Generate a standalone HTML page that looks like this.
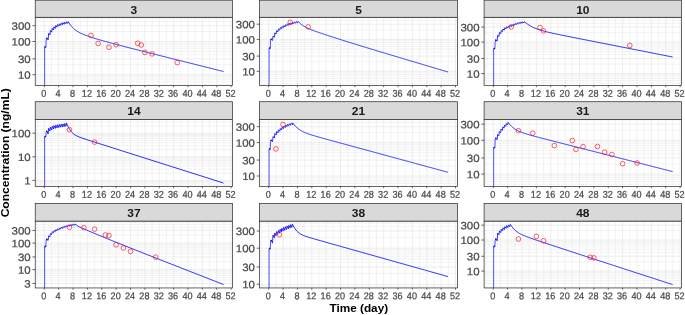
<!DOCTYPE html>
<html lang="en"><head><meta charset="utf-8"><title>Concentration vs Time</title>
<style>html,body{margin:0;padding:0;background:#fff}body{width:685px;height:315px;overflow:hidden}svg{display:block}</style>
</head><body>
<svg width="685" height="315" viewBox="0 0 685 315" font-family="'Liberation Sans', Arial, sans-serif">
<rect width="685" height="315" fill="#fff"/>
<g>
<clipPath id="c0"><rect x="35.25" y="17.3" width="197.25" height="68.20"/></clipPath>
<g clip-path="url(#c0)">
<path d="M35.25 84.69H232.5M35.25 82.07H232.5M35.25 79.84H232.5M35.25 77.92H232.5M35.25 76.22H232.5M35.25 64.71H232.5M35.25 54.71H232.5M35.25 51.49H232.5M35.25 48.87H232.5M35.25 46.64H232.5M35.25 44.72H232.5M35.25 43.02H232.5M35.25 31.51H232.5M35.25 21.51H232.5M35.25 18.29H232.5M37.09 17.3V85.5M51.47 17.3V85.5M65.84 17.3V85.5M80.21 17.3V85.5M94.58 17.3V85.5M108.95 17.3V85.5M123.32 17.3V85.5M137.69 17.3V85.5M152.06 17.3V85.5M166.43 17.3V85.5M180.80 17.3V85.5M195.17 17.3V85.5M209.54 17.3V85.5M223.91 17.3V85.5" stroke="#e9e9e9" stroke-width="0.55" fill="none"/>
<path d="M35.25 74.70H232.5M35.25 58.86H232.5M35.25 41.50H232.5M35.25 25.66H232.5M44.28 17.3V85.5M58.65 17.3V85.5M73.02 17.3V85.5M87.39 17.3V85.5M101.76 17.3V85.5M116.13 17.3V85.5M130.50 17.3V85.5M144.88 17.3V85.5M159.25 17.3V85.5M173.62 17.3V85.5M187.99 17.3V85.5M202.36 17.3V85.5M216.73 17.3V85.5M231.10 17.3V85.5" stroke="#e6e6e6" stroke-width="0.7" fill="none"/>
<path d="M44.65 86.50 L44.65 47.40 L45.28 46.80 L45.88 47.30 L46.18 39.30 L46.88 38.30" stroke="#0a0aff" stroke-width="0.7" fill="none" stroke-linejoin="round"/>
<path d="M46.88 38.30 L46.88 38.30 L48.12 39.90 L48.66 33.40 L49.90 35.00 L50.43 30.54 L51.68 32.14 L52.21 28.37 L53.45 29.97 L53.99 26.78 L55.23 28.38 L55.76 25.56 L57.01 27.16 L57.54 24.60 L58.78 26.20 L59.32 23.85 L60.56 25.45 L61.09 23.22 L62.34 24.82 L62.87 22.67 L64.11 24.27 L64.65 22.21 L65.89 23.81 L66.42 21.82 L67.67 23.42 L68.20 21.50" stroke="#0a0aff" stroke-width="0.85" fill="none" stroke-linejoin="miter" stroke-miterlimit="10"/>
<path d="M48.12 39.90L48.66 33.40M49.90 35.00L50.43 30.54M51.68 32.14L52.21 28.37M53.45 29.97L53.99 26.78M55.23 28.38L55.76 25.56M57.01 27.16L57.54 24.60M58.78 26.20L59.32 23.85M60.56 25.45L61.09 23.22M62.34 24.82L62.87 22.67M64.11 24.27L64.65 22.21M65.89 23.81L66.42 21.82M67.67 23.42L68.20 21.50" stroke="#0a0aff" stroke-width="0" fill="none"/>
<path d="M68.20 21.50 L68.70 22.35 L69.70 23.91 L70.70 25.31 L71.70 26.54 L72.70 27.63 L73.70 28.60 L74.70 29.47 L75.70 30.24 L76.70 30.94 L77.70 31.57 L78.70 32.15 L79.70 32.68 L80.70 33.18 L81.70 33.65 L82.70 34.09 L83.70 34.51 L84.70 34.91 L85.70 35.30 L86.70 35.67 L87.70 36.03 L88.70 36.38 L89.70 36.72 L90.70 37.06 L91.70 37.39 L92.70 37.71 L93.70 38.03 L94.70 38.34 L95.70 38.65 L96.70 38.95 L97.70 39.25 L98.70 39.55 L99.70 39.85 L100.70 40.14 L101.70 40.43 L102.70 40.71 L103.70 41.00 L104.70 41.28 L105.70 41.56 L106.70 41.84 L107.70 42.11 L108.70 42.39 L109.70 42.66 L110.70 42.93 L111.70 43.20 L112.70 43.47 L113.70 43.74 L114.70 44.01 L115.70 44.27 L116.70 44.54 L117.70 44.80 L118.70 45.06 L119.70 45.33 L120.70 45.59 L121.70 45.85 L122.70 46.11 L123.70 46.37 L124.70 46.63 L125.70 46.88 L126.70 47.14 L127.70 47.40 L128.70 47.66 L129.70 47.91 L130.70 48.17 L131.70 48.43 L132.70 48.68 L133.70 48.94 L134.70 49.19 L135.70 49.45 L136.70 49.70 L137.70 49.95 L138.70 50.21 L139.70 50.46 L140.70 50.72 L141.70 50.97 L142.70 51.22 L143.70 51.47 L144.70 51.73 L145.70 51.98 L146.70 52.23 L147.70 52.48 L148.70 52.74 L149.70 52.99 L150.70 53.24 L151.70 53.49 L152.70 53.74 L153.70 54.00 L154.70 54.25 L155.70 54.50 L156.70 54.75 L157.70 55.00 L158.70 55.25 L159.70 55.51 L160.70 55.76 L161.70 56.01 L162.70 56.26 L163.70 56.51 L164.70 56.76 L165.70 57.01 L166.70 57.26 L167.70 57.51 L168.70 57.77 L169.70 58.02 L170.70 58.27 L171.70 58.52 L172.70 58.77 L173.70 59.02 L174.70 59.27 L175.70 59.52 L176.70 59.77 L177.70 60.02 L178.70 60.27 L179.70 60.52 L180.70 60.78 L181.70 61.03 L182.70 61.28 L183.70 61.53 L184.70 61.78 L185.70 62.03 L186.70 62.28 L187.70 62.53 L188.70 62.78 L189.70 63.03 L190.70 63.28 L191.70 63.53 L192.70 63.78 L193.70 64.03 L194.70 64.28 L195.70 64.53 L196.70 64.79 L197.70 65.04 L198.70 65.29 L199.70 65.54 L200.70 65.79 L201.70 66.04 L202.70 66.29 L203.70 66.54 L204.70 66.79 L205.70 67.04 L206.70 67.29 L207.70 67.54 L208.70 67.79 L209.70 68.04 L210.70 68.29 L211.70 68.54 L212.70 68.79 L213.70 69.04 L214.70 69.30 L215.70 69.55 L216.70 69.80 L217.70 70.05 L218.70 70.30 L219.70 70.55 L220.70 70.80 L221.70 71.05 L222.70 71.30 L223.50 71.50" stroke="#0a0aff" stroke-width="0.85" fill="none" stroke-linejoin="round"/>
<circle cx="45.18" cy="46.90" r="0.85" fill="#0a0aff"/>
<circle cx="46.78" cy="38.40" r="0.85" fill="#0a0aff"/>
<circle cx="90.98509999999999" cy="35.5" r="2.35" stroke="#f81818" stroke-width="0.68" fill="none"/>
<circle cx="98.1705" cy="43.4" r="2.35" stroke="#f81818" stroke-width="0.68" fill="none"/>
<circle cx="108.9486" cy="47.2" r="2.35" stroke="#f81818" stroke-width="0.68" fill="none"/>
<circle cx="116.134" cy="44.7" r="2.35" stroke="#f81818" stroke-width="0.68" fill="none"/>
<circle cx="137.6902" cy="43.3" r="2.35" stroke="#f81818" stroke-width="0.68" fill="none"/>
<circle cx="141.28289999999998" cy="45" r="2.35" stroke="#f81818" stroke-width="0.68" fill="none"/>
<circle cx="144.8756" cy="52.5" r="2.35" stroke="#f81818" stroke-width="0.68" fill="none"/>
<circle cx="152.06099999999998" cy="53.9" r="2.35" stroke="#f81818" stroke-width="0.68" fill="none"/>
<circle cx="177.2099" cy="62.6" r="2.35" stroke="#f81818" stroke-width="0.68" fill="none"/>
</g>
<rect x="35.25" y="17.3" width="197.25" height="68.20" fill="none" stroke="#333" stroke-width="0.75"/>
<rect x="35.25" y="0.2" width="197.25" height="17.10" fill="#d9d9d9" stroke="#333" stroke-width="0.75"/>
<text transform="translate(133.88 13.90) scale(1.04 1)" font-size="11.5" font-weight="bold" fill="#1a1a1a" text-anchor="middle">3</text>
<text transform="translate(30.65 29.76) rotate(0.03) scale(1.08 1)" font-size="10.6" fill="#484848" stroke="#484848" stroke-width="0.22" text-anchor="end">300</text>
<text transform="translate(30.65 45.60) rotate(0.03) scale(1.08 1)" font-size="10.6" fill="#484848" stroke="#484848" stroke-width="0.22" text-anchor="end">100</text>
<text transform="translate(30.65 62.96) rotate(0.03) scale(1.08 1)" font-size="10.6" fill="#484848" stroke="#484848" stroke-width="0.22" text-anchor="end">30</text>
<text transform="translate(30.65 78.80) rotate(0.03) scale(1.08 1)" font-size="10.6" fill="#484848" stroke="#484848" stroke-width="0.22" text-anchor="end">10</text>
<text transform="translate(43.78 96.80) rotate(0.03) scale(1 1.08)" font-size="9.1" fill="#484848" stroke="#484848" stroke-width="0.22" text-anchor="middle">0</text>
<text transform="translate(58.15 96.80) rotate(0.03) scale(1 1.08)" font-size="9.1" fill="#484848" stroke="#484848" stroke-width="0.22" text-anchor="middle">4</text>
<text transform="translate(72.52 96.80) rotate(0.03) scale(1 1.08)" font-size="9.1" fill="#484848" stroke="#484848" stroke-width="0.22" text-anchor="middle">8</text>
<text transform="translate(86.89 96.80) rotate(0.03) scale(1 1.08)" font-size="9.1" fill="#484848" stroke="#484848" stroke-width="0.22" text-anchor="middle">12</text>
<text transform="translate(101.26 96.80) rotate(0.03) scale(1 1.08)" font-size="9.1" fill="#484848" stroke="#484848" stroke-width="0.22" text-anchor="middle">16</text>
<text transform="translate(115.63 96.80) rotate(0.03) scale(1 1.08)" font-size="9.1" fill="#484848" stroke="#484848" stroke-width="0.22" text-anchor="middle">20</text>
<text transform="translate(130.00 96.80) rotate(0.03) scale(1 1.08)" font-size="9.1" fill="#484848" stroke="#484848" stroke-width="0.22" text-anchor="middle">24</text>
<text transform="translate(144.38 96.80) rotate(0.03) scale(1 1.08)" font-size="9.1" fill="#484848" stroke="#484848" stroke-width="0.22" text-anchor="middle">28</text>
<text transform="translate(158.75 96.80) rotate(0.03) scale(1 1.08)" font-size="9.1" fill="#484848" stroke="#484848" stroke-width="0.22" text-anchor="middle">32</text>
<text transform="translate(173.12 96.80) rotate(0.03) scale(1 1.08)" font-size="9.1" fill="#484848" stroke="#484848" stroke-width="0.22" text-anchor="middle">36</text>
<text transform="translate(187.49 96.80) rotate(0.03) scale(1 1.08)" font-size="9.1" fill="#484848" stroke="#484848" stroke-width="0.22" text-anchor="middle">40</text>
<text transform="translate(201.86 96.80) rotate(0.03) scale(1 1.08)" font-size="9.1" fill="#484848" stroke="#484848" stroke-width="0.22" text-anchor="middle">44</text>
<text transform="translate(216.23 96.80) rotate(0.03) scale(1 1.08)" font-size="9.1" fill="#484848" stroke="#484848" stroke-width="0.22" text-anchor="middle">48</text>
<text transform="translate(230.60 96.80) rotate(0.03) scale(1 1.08)" font-size="9.1" fill="#484848" stroke="#484848" stroke-width="0.22" text-anchor="middle">52</text>
<path d="M32.45 25.66H35.25M32.45 41.50H35.25M32.45 58.86H35.25M32.45 74.70H35.25M44.28 85.5V87.20M58.65 85.5V87.20M73.02 85.5V87.20M87.39 85.5V87.20M101.76 85.5V87.20M116.13 85.5V87.20M130.50 85.5V87.20M144.88 85.5V87.20M159.25 85.5V87.20M173.62 85.5V87.20M187.99 85.5V87.20M202.36 85.5V87.20M216.73 85.5V87.20M231.10 85.5V87.20" stroke="#333" stroke-width="0.75" fill="none"/>
</g>
<g>
<clipPath id="c1"><rect x="259.5" y="17.3" width="198.0" height="68.20"/></clipPath>
<g clip-path="url(#c1)">
<path d="M259.5 83.99H457.5M259.5 80.90H457.5M259.5 78.38H457.5M259.5 76.24H457.5M259.5 74.39H457.5M259.5 72.76H457.5M259.5 61.70H457.5M259.5 52.09H457.5M259.5 49.00H457.5M259.5 46.48H457.5M259.5 44.34H457.5M259.5 42.49H457.5M259.5 40.86H457.5M259.5 29.80H457.5M259.5 20.19H457.5M261.49 17.3V85.5M275.87 17.3V85.5M290.24 17.3V85.5M304.61 17.3V85.5M318.98 17.3V85.5M333.35 17.3V85.5M347.72 17.3V85.5M362.09 17.3V85.5M376.46 17.3V85.5M390.83 17.3V85.5M405.20 17.3V85.5M419.57 17.3V85.5M433.94 17.3V85.5M448.31 17.3V85.5" stroke="#e9e9e9" stroke-width="0.55" fill="none"/>
<path d="M259.5 71.30H457.5M259.5 56.08H457.5M259.5 39.40H457.5M259.5 24.18H457.5M268.68 17.3V85.5M283.05 17.3V85.5M297.42 17.3V85.5M311.79 17.3V85.5M326.16 17.3V85.5M340.53 17.3V85.5M354.90 17.3V85.5M369.28 17.3V85.5M383.65 17.3V85.5M398.02 17.3V85.5M412.39 17.3V85.5M426.76 17.3V85.5M441.13 17.3V85.5M455.50 17.3V85.5" stroke="#e6e6e6" stroke-width="0.7" fill="none"/>
<path d="M269.05 86.50 L269.05 48.60 L269.68 48.00 L270.28 48.50 L270.58 40.20 L271.28 39.20" stroke="#0a0aff" stroke-width="0.7" fill="none" stroke-linejoin="round"/>
<path d="M271.28 39.20 L271.28 39.20 L272.53 40.40 L273.07 36.02 L274.32 37.22 L274.86 32.86 L276.11 34.06 L276.64 30.69 L277.90 31.89 L278.43 28.98 L279.68 30.18 L280.22 27.59 L281.47 28.79 L282.01 26.50 L283.26 27.70 L283.80 25.61 L285.05 26.81 L285.58 24.82 L286.84 26.02 L287.37 24.05 L288.62 25.25 L289.16 23.33 L290.41 24.53 L290.95 22.79 L292.20 23.99 L292.74 22.33 L293.99 23.53 L294.52 21.93 L295.78 23.13 L296.31 21.61 L297.56 22.81 L298.10 21.40" stroke="#0a0aff" stroke-width="0.85" fill="none" stroke-linejoin="miter" stroke-miterlimit="10"/>
<path d="M272.53 40.40L273.07 36.02M274.32 37.22L274.86 32.86M276.11 34.06L276.64 30.69M277.90 31.89L278.43 28.98M279.68 30.18L280.22 27.59M281.47 28.79L282.01 26.50M283.26 27.70L283.80 25.61M285.05 26.81L285.58 24.82M286.84 26.02L287.37 24.05M288.62 25.25L289.16 23.33M290.41 24.53L290.95 22.79M292.20 23.99L292.74 22.33M293.99 23.53L294.52 21.93M295.78 23.13L296.31 21.61M297.56 22.81L298.10 21.40" stroke="#0a0aff" stroke-width="0" fill="none"/>
<path d="M298.10 21.40 L298.60 21.94 L299.60 22.94 L300.60 23.83 L301.60 24.62 L302.60 25.34 L303.60 26.00 L304.60 26.59 L305.60 27.14 L306.60 27.65 L307.60 28.13 L308.60 28.59 L309.60 29.02 L310.60 29.43 L311.60 29.83 L312.60 30.22 L313.60 30.59 L314.60 30.96 L315.60 31.33 L316.60 31.68 L317.60 32.03 L318.60 32.38 L319.60 32.73 L320.60 33.07 L321.60 33.41 L322.60 33.74 L323.60 34.08 L324.60 34.41 L325.60 34.74 L326.60 35.07 L327.60 35.40 L328.60 35.73 L329.60 36.05 L330.60 36.38 L331.60 36.70 L332.60 37.03 L333.60 37.35 L334.60 37.67 L335.60 37.99 L336.60 38.31 L337.60 38.63 L338.60 38.95 L339.60 39.27 L340.60 39.58 L341.60 39.90 L342.60 40.21 L343.60 40.53 L344.60 40.84 L345.60 41.16 L346.60 41.47 L347.60 41.78 L348.60 42.10 L349.60 42.41 L350.60 42.72 L351.60 43.03 L352.60 43.34 L353.60 43.65 L354.60 43.96 L355.60 44.27 L356.60 44.58 L357.60 44.88 L358.60 45.19 L359.60 45.50 L360.60 45.81 L361.60 46.11 L362.60 46.42 L363.60 46.73 L364.60 47.03 L365.60 47.34 L366.60 47.64 L367.60 47.95 L368.60 48.25 L369.60 48.56 L370.60 48.86 L371.60 49.16 L372.60 49.47 L373.60 49.77 L374.60 50.07 L375.60 50.38 L376.60 50.68 L377.60 50.98 L378.60 51.28 L379.60 51.59 L380.60 51.89 L381.60 52.19 L382.60 52.49 L383.60 52.79 L384.60 53.09 L385.60 53.39 L386.60 53.69 L387.60 53.99 L388.60 54.29 L389.60 54.59 L390.60 54.89 L391.60 55.19 L392.60 55.49 L393.60 55.79 L394.60 56.09 L395.60 56.39 L396.60 56.69 L397.60 56.99 L398.60 57.29 L399.60 57.59 L400.60 57.89 L401.60 58.19 L402.60 58.49 L403.60 58.78 L404.60 59.08 L405.60 59.38 L406.60 59.68 L407.60 59.98 L408.60 60.28 L409.60 60.57 L410.60 60.87 L411.60 61.17 L412.60 61.47 L413.60 61.77 L414.60 62.06 L415.60 62.36 L416.60 62.66 L417.60 62.96 L418.60 63.25 L419.60 63.55 L420.60 63.85 L421.60 64.14 L422.60 64.44 L423.60 64.74 L424.60 65.04 L425.60 65.33 L426.60 65.63 L427.60 65.93 L428.60 66.22 L429.60 66.52 L430.60 66.82 L431.60 67.11 L432.60 67.41 L433.60 67.71 L434.60 68.01 L435.60 68.30 L436.60 68.60 L437.60 68.90 L438.60 69.19 L439.60 69.49 L440.60 69.78 L441.60 70.08 L442.60 70.38 L443.60 70.67 L444.60 70.97 L445.60 71.27 L446.60 71.56 L447.60 71.86 L448.00 72.00" stroke="#0a0aff" stroke-width="0.85" fill="none" stroke-linejoin="round"/>
<circle cx="269.58" cy="48.10" r="0.85" fill="#0a0aff"/>
<circle cx="271.18" cy="39.30" r="0.85" fill="#0a0aff"/>
<circle cx="290.2362" cy="22.4" r="2.35" stroke="#f81818" stroke-width="0.68" fill="none"/>
<circle cx="308.1997" cy="26.9" r="2.35" stroke="#f81818" stroke-width="0.68" fill="none"/>
</g>
<rect x="259.5" y="17.3" width="198.0" height="68.20" fill="none" stroke="#333" stroke-width="0.75"/>
<rect x="259.5" y="0.2" width="198.0" height="17.10" fill="#d9d9d9" stroke="#333" stroke-width="0.75"/>
<text transform="translate(358.50 13.90) scale(1.04 1)" font-size="11.5" font-weight="bold" fill="#1a1a1a" text-anchor="middle">5</text>
<text transform="translate(254.90 28.28) rotate(0.03) scale(1.08 1)" font-size="10.6" fill="#484848" stroke="#484848" stroke-width="0.22" text-anchor="end">300</text>
<text transform="translate(254.90 43.50) rotate(0.03) scale(1.08 1)" font-size="10.6" fill="#484848" stroke="#484848" stroke-width="0.22" text-anchor="end">100</text>
<text transform="translate(254.90 60.18) rotate(0.03) scale(1.08 1)" font-size="10.6" fill="#484848" stroke="#484848" stroke-width="0.22" text-anchor="end">30</text>
<text transform="translate(254.90 75.40) rotate(0.03) scale(1.08 1)" font-size="10.6" fill="#484848" stroke="#484848" stroke-width="0.22" text-anchor="end">10</text>
<text transform="translate(268.18 96.80) rotate(0.03) scale(1 1.08)" font-size="9.1" fill="#484848" stroke="#484848" stroke-width="0.22" text-anchor="middle">0</text>
<text transform="translate(282.55 96.80) rotate(0.03) scale(1 1.08)" font-size="9.1" fill="#484848" stroke="#484848" stroke-width="0.22" text-anchor="middle">4</text>
<text transform="translate(296.92 96.80) rotate(0.03) scale(1 1.08)" font-size="9.1" fill="#484848" stroke="#484848" stroke-width="0.22" text-anchor="middle">8</text>
<text transform="translate(311.29 96.80) rotate(0.03) scale(1 1.08)" font-size="9.1" fill="#484848" stroke="#484848" stroke-width="0.22" text-anchor="middle">12</text>
<text transform="translate(325.66 96.80) rotate(0.03) scale(1 1.08)" font-size="9.1" fill="#484848" stroke="#484848" stroke-width="0.22" text-anchor="middle">16</text>
<text transform="translate(340.03 96.80) rotate(0.03) scale(1 1.08)" font-size="9.1" fill="#484848" stroke="#484848" stroke-width="0.22" text-anchor="middle">20</text>
<text transform="translate(354.40 96.80) rotate(0.03) scale(1 1.08)" font-size="9.1" fill="#484848" stroke="#484848" stroke-width="0.22" text-anchor="middle">24</text>
<text transform="translate(368.78 96.80) rotate(0.03) scale(1 1.08)" font-size="9.1" fill="#484848" stroke="#484848" stroke-width="0.22" text-anchor="middle">28</text>
<text transform="translate(383.15 96.80) rotate(0.03) scale(1 1.08)" font-size="9.1" fill="#484848" stroke="#484848" stroke-width="0.22" text-anchor="middle">32</text>
<text transform="translate(397.52 96.80) rotate(0.03) scale(1 1.08)" font-size="9.1" fill="#484848" stroke="#484848" stroke-width="0.22" text-anchor="middle">36</text>
<text transform="translate(411.89 96.80) rotate(0.03) scale(1 1.08)" font-size="9.1" fill="#484848" stroke="#484848" stroke-width="0.22" text-anchor="middle">40</text>
<text transform="translate(426.26 96.80) rotate(0.03) scale(1 1.08)" font-size="9.1" fill="#484848" stroke="#484848" stroke-width="0.22" text-anchor="middle">44</text>
<text transform="translate(440.63 96.80) rotate(0.03) scale(1 1.08)" font-size="9.1" fill="#484848" stroke="#484848" stroke-width="0.22" text-anchor="middle">48</text>
<text transform="translate(455.00 96.80) rotate(0.03) scale(1 1.08)" font-size="9.1" fill="#484848" stroke="#484848" stroke-width="0.22" text-anchor="middle">52</text>
<path d="M256.70 24.18H259.5M256.70 39.40H259.5M256.70 56.08H259.5M256.70 71.30H259.5M268.68 85.5V87.20M283.05 85.5V87.20M297.42 85.5V87.20M311.79 85.5V87.20M326.16 85.5V87.20M340.53 85.5V87.20M354.90 85.5V87.20M369.28 85.5V87.20M383.65 85.5V87.20M398.02 85.5V87.20M412.39 85.5V87.20M426.76 85.5V87.20M441.13 85.5V87.20M455.50 85.5V87.20" stroke="#333" stroke-width="0.75" fill="none"/>
</g>
<g>
<clipPath id="c2"><rect x="484.1" y="17.3" width="197.39999999999998" height="68.20"/></clipPath>
<g clip-path="url(#c2)">
<path d="M484.1 83.08H681.5M484.1 80.59H681.5M484.1 78.48H681.5M484.1 76.65H681.5M484.1 75.04H681.5M484.1 64.12H681.5M484.1 54.64H681.5M484.1 51.58H681.5M484.1 49.09H681.5M484.1 46.98H681.5M484.1 45.15H681.5M484.1 43.54H681.5M484.1 32.62H681.5M484.1 23.14H681.5M484.1 20.08H681.5M484.1 17.59H681.5M486.09 17.3V85.5M500.47 17.3V85.5M514.84 17.3V85.5M529.21 17.3V85.5M543.58 17.3V85.5M557.95 17.3V85.5M572.32 17.3V85.5M586.69 17.3V85.5M601.06 17.3V85.5M615.43 17.3V85.5M629.80 17.3V85.5M644.17 17.3V85.5M658.54 17.3V85.5M672.91 17.3V85.5" stroke="#e9e9e9" stroke-width="0.55" fill="none"/>
<path d="M484.1 73.60H681.5M484.1 58.57H681.5M484.1 42.10H681.5M484.1 27.07H681.5M493.28 17.3V85.5M507.65 17.3V85.5M522.02 17.3V85.5M536.39 17.3V85.5M550.76 17.3V85.5M565.13 17.3V85.5M579.50 17.3V85.5M593.88 17.3V85.5M608.25 17.3V85.5M622.62 17.3V85.5M636.99 17.3V85.5M651.36 17.3V85.5M665.73 17.3V85.5M680.10 17.3V85.5" stroke="#e6e6e6" stroke-width="0.7" fill="none"/>
<path d="M493.65 86.50 L493.65 49.00 L494.28 48.40 L494.88 48.90 L495.18 41.10 L495.88 40.10" stroke="#0a0aff" stroke-width="0.7" fill="none" stroke-linejoin="round"/>
<path d="M495.88 40.10 L495.88 40.10 L497.13 41.20 L497.66 35.33 L498.91 36.43 L499.44 32.50 L500.69 33.60 L501.23 30.56 L502.48 31.66 L503.01 29.03 L504.26 30.13 L504.79 27.79 L506.04 28.89 L506.57 26.84 L507.82 27.94 L508.36 26.12 L509.61 27.22 L510.14 25.48 L511.39 26.58 L511.92 24.81 L513.17 25.91 L513.70 24.08 L514.95 25.18 L515.49 23.39 L516.74 24.49 L517.27 22.85 L518.52 23.95 L519.05 22.46 L520.30 23.56 L520.84 22.12 L522.08 23.22 L522.62 21.86 L523.87 22.96 L524.40 21.70" stroke="#0a0aff" stroke-width="0.85" fill="none" stroke-linejoin="miter" stroke-miterlimit="10"/>
<path d="M497.13 41.20L497.66 35.33M498.91 36.43L499.44 32.50M500.69 33.60L501.23 30.56M502.48 31.66L503.01 29.03M504.26 30.13L504.79 27.79M506.04 28.89L506.57 26.84M507.82 27.94L508.36 26.12M509.61 27.22L510.14 25.48M511.39 26.58L511.92 24.81M513.17 25.91L513.70 24.08M514.95 25.18L515.49 23.39M516.74 24.49L517.27 22.85M518.52 23.95L519.05 22.46M520.30 23.56L520.84 22.12M522.08 23.22L522.62 21.86M523.87 22.96L524.40 21.70" stroke="#0a0aff" stroke-width="0" fill="none"/>
<path d="M524.40 21.70 L524.90 22.12 L525.90 22.92 L526.90 23.67 L527.90 24.37 L528.90 25.02 L529.90 25.63 L530.90 26.20 L531.90 26.73 L532.90 27.22 L533.90 27.68 L534.90 28.12 L535.90 28.53 L536.90 28.91 L537.90 29.27 L538.90 29.62 L539.90 29.95 L540.90 30.26 L541.90 30.56 L542.90 30.84 L543.90 31.12 L544.90 31.38 L545.90 31.64 L546.90 31.89 L547.90 32.14 L548.90 32.37 L549.90 32.61 L550.90 32.84 L551.90 33.06 L552.90 33.28 L553.90 33.50 L554.90 33.72 L555.90 33.93 L556.90 34.14 L557.90 34.35 L558.90 34.56 L559.90 34.76 L560.90 34.97 L561.90 35.17 L562.90 35.38 L563.90 35.58 L564.90 35.78 L565.90 35.98 L566.90 36.18 L567.90 36.38 L568.90 36.58 L569.90 36.78 L570.90 36.98 L571.90 37.18 L572.90 37.38 L573.90 37.58 L574.90 37.77 L575.90 37.97 L576.90 38.17 L577.90 38.37 L578.90 38.56 L579.90 38.76 L580.90 38.96 L581.90 39.16 L582.90 39.35 L583.90 39.55 L584.90 39.75 L585.90 39.94 L586.90 40.14 L587.90 40.34 L588.90 40.53 L589.90 40.73 L590.90 40.93 L591.90 41.13 L592.90 41.32 L593.90 41.52 L594.90 41.72 L595.90 41.91 L596.90 42.11 L597.90 42.31 L598.90 42.50 L599.90 42.70 L600.90 42.90 L601.90 43.09 L602.90 43.29 L603.90 43.49 L604.90 43.68 L605.90 43.88 L606.90 44.08 L607.90 44.27 L608.90 44.47 L609.90 44.67 L610.90 44.86 L611.90 45.06 L612.90 45.26 L613.90 45.45 L614.90 45.65 L615.90 45.85 L616.90 46.04 L617.90 46.24 L618.90 46.44 L619.90 46.63 L620.90 46.83 L621.90 47.03 L622.90 47.22 L623.90 47.42 L624.90 47.62 L625.90 47.81 L626.90 48.01 L627.90 48.21 L628.90 48.40 L629.90 48.60 L630.90 48.80 L631.90 48.99 L632.90 49.19 L633.90 49.39 L634.90 49.58 L635.90 49.78 L636.90 49.98 L637.90 50.17 L638.90 50.37 L639.90 50.57 L640.90 50.76 L641.90 50.96 L642.90 51.16 L643.90 51.35 L644.90 51.55 L645.90 51.75 L646.90 51.94 L647.90 52.14 L648.90 52.34 L649.90 52.53 L650.90 52.73 L651.90 52.93 L652.90 53.13 L653.90 53.32 L654.90 53.52 L655.90 53.72 L656.90 53.91 L657.90 54.11 L658.90 54.31 L659.90 54.50 L660.90 54.70 L661.90 54.90 L662.90 55.09 L663.90 55.29 L664.90 55.49 L665.90 55.68 L666.90 55.88 L667.90 56.08 L668.90 56.27 L669.90 56.47 L670.90 56.67 L671.90 56.86 L672.60 57.00" stroke="#0a0aff" stroke-width="0.85" fill="none" stroke-linejoin="round"/>
<circle cx="494.18" cy="48.50" r="0.85" fill="#0a0aff"/>
<circle cx="495.78" cy="40.20" r="0.85" fill="#0a0aff"/>
<circle cx="511.2435" cy="26.9" r="2.35" stroke="#f81818" stroke-width="0.68" fill="none"/>
<circle cx="539.9851" cy="27.5" r="2.35" stroke="#f81818" stroke-width="0.68" fill="none"/>
<circle cx="543.5778" cy="30.9" r="2.35" stroke="#f81818" stroke-width="0.68" fill="none"/>
<circle cx="629.8026" cy="45.4" r="2.35" stroke="#f81818" stroke-width="0.68" fill="none"/>
</g>
<rect x="484.1" y="17.3" width="197.39999999999998" height="68.20" fill="none" stroke="#333" stroke-width="0.75"/>
<rect x="484.1" y="0.2" width="197.39999999999998" height="17.10" fill="#d9d9d9" stroke="#333" stroke-width="0.75"/>
<text transform="translate(582.80 13.90) scale(1.04 1)" font-size="11.5" font-weight="bold" fill="#1a1a1a" text-anchor="middle">10</text>
<text transform="translate(479.50 31.17) rotate(0.03) scale(1.08 1)" font-size="10.6" fill="#484848" stroke="#484848" stroke-width="0.22" text-anchor="end">300</text>
<text transform="translate(479.50 46.20) rotate(0.03) scale(1.08 1)" font-size="10.6" fill="#484848" stroke="#484848" stroke-width="0.22" text-anchor="end">100</text>
<text transform="translate(479.50 62.67) rotate(0.03) scale(1.08 1)" font-size="10.6" fill="#484848" stroke="#484848" stroke-width="0.22" text-anchor="end">30</text>
<text transform="translate(479.50 77.70) rotate(0.03) scale(1.08 1)" font-size="10.6" fill="#484848" stroke="#484848" stroke-width="0.22" text-anchor="end">10</text>
<text transform="translate(492.78 96.80) rotate(0.03) scale(1 1.08)" font-size="9.1" fill="#484848" stroke="#484848" stroke-width="0.22" text-anchor="middle">0</text>
<text transform="translate(507.15 96.80) rotate(0.03) scale(1 1.08)" font-size="9.1" fill="#484848" stroke="#484848" stroke-width="0.22" text-anchor="middle">4</text>
<text transform="translate(521.52 96.80) rotate(0.03) scale(1 1.08)" font-size="9.1" fill="#484848" stroke="#484848" stroke-width="0.22" text-anchor="middle">8</text>
<text transform="translate(535.89 96.80) rotate(0.03) scale(1 1.08)" font-size="9.1" fill="#484848" stroke="#484848" stroke-width="0.22" text-anchor="middle">12</text>
<text transform="translate(550.26 96.80) rotate(0.03) scale(1 1.08)" font-size="9.1" fill="#484848" stroke="#484848" stroke-width="0.22" text-anchor="middle">16</text>
<text transform="translate(564.63 96.80) rotate(0.03) scale(1 1.08)" font-size="9.1" fill="#484848" stroke="#484848" stroke-width="0.22" text-anchor="middle">20</text>
<text transform="translate(579.00 96.80) rotate(0.03) scale(1 1.08)" font-size="9.1" fill="#484848" stroke="#484848" stroke-width="0.22" text-anchor="middle">24</text>
<text transform="translate(593.38 96.80) rotate(0.03) scale(1 1.08)" font-size="9.1" fill="#484848" stroke="#484848" stroke-width="0.22" text-anchor="middle">28</text>
<text transform="translate(607.75 96.80) rotate(0.03) scale(1 1.08)" font-size="9.1" fill="#484848" stroke="#484848" stroke-width="0.22" text-anchor="middle">32</text>
<text transform="translate(622.12 96.80) rotate(0.03) scale(1 1.08)" font-size="9.1" fill="#484848" stroke="#484848" stroke-width="0.22" text-anchor="middle">36</text>
<text transform="translate(636.49 96.80) rotate(0.03) scale(1 1.08)" font-size="9.1" fill="#484848" stroke="#484848" stroke-width="0.22" text-anchor="middle">40</text>
<text transform="translate(650.86 96.80) rotate(0.03) scale(1 1.08)" font-size="9.1" fill="#484848" stroke="#484848" stroke-width="0.22" text-anchor="middle">44</text>
<text transform="translate(665.23 96.80) rotate(0.03) scale(1 1.08)" font-size="9.1" fill="#484848" stroke="#484848" stroke-width="0.22" text-anchor="middle">48</text>
<text transform="translate(679.60 96.80) rotate(0.03) scale(1 1.08)" font-size="9.1" fill="#484848" stroke="#484848" stroke-width="0.22" text-anchor="middle">52</text>
<path d="M481.30 27.07H484.1M481.30 42.10H484.1M481.30 58.57H484.1M481.30 73.60H484.1M493.28 85.5V87.20M507.65 85.5V87.20M522.02 85.5V87.20M536.39 85.5V87.20M550.76 85.5V87.20M565.13 85.5V87.20M579.50 85.5V87.20M593.88 85.5V87.20M608.25 85.5V87.20M622.62 85.5V87.20M636.99 85.5V87.20M651.36 85.5V87.20M665.73 85.5V87.20M680.10 85.5V87.20" stroke="#333" stroke-width="0.75" fill="none"/>
</g>
<g>
<clipPath id="c3"><rect x="35.25" y="119.5" width="197.25" height="67.00"/></clipPath>
<g clip-path="url(#c3)">
<path d="M35.25 185.64H232.5M35.25 184.06H232.5M35.25 182.69H232.5M35.25 181.48H232.5M35.25 173.30H232.5M35.25 169.14H232.5M35.25 166.19H232.5M35.25 163.90H232.5M35.25 162.04H232.5M35.25 160.46H232.5M35.25 159.09H232.5M35.25 157.88H232.5M35.25 149.70H232.5M35.25 145.54H232.5M35.25 142.59H232.5M35.25 140.30H232.5M35.25 138.44H232.5M35.25 136.86H232.5M35.25 135.49H232.5M35.25 134.28H232.5M35.25 126.10H232.5M35.25 121.94H232.5M37.09 119.5V186.5M51.47 119.5V186.5M65.84 119.5V186.5M80.21 119.5V186.5M94.58 119.5V186.5M108.95 119.5V186.5M123.32 119.5V186.5M137.69 119.5V186.5M152.06 119.5V186.5M166.43 119.5V186.5M180.80 119.5V186.5M195.17 119.5V186.5M209.54 119.5V186.5M223.91 119.5V186.5" stroke="#e9e9e9" stroke-width="0.55" fill="none"/>
<path d="M35.25 180.40H232.5M35.25 156.80H232.5M35.25 133.20H232.5M44.28 119.5V186.5M58.65 119.5V186.5M73.02 119.5V186.5M87.39 119.5V186.5M101.76 119.5V186.5M116.13 119.5V186.5M130.50 119.5V186.5M144.88 119.5V186.5M159.25 119.5V186.5M173.62 119.5V186.5M187.99 119.5V186.5M202.36 119.5V186.5M216.73 119.5V186.5M231.10 119.5V186.5" stroke="#e6e6e6" stroke-width="0.7" fill="none"/>
<path d="M44.65 187.50 L44.65 137.00 L45.28 136.40 L45.88 136.90 L46.18 132.20 L46.88 131.20" stroke="#0a0aff" stroke-width="0.7" fill="none" stroke-linejoin="round"/>
<path d="M46.88 131.20 L46.88 131.20 L48.13 134.00 L48.66 128.21 L49.91 131.01 L50.45 127.16 L51.70 129.96 L52.23 126.21 L53.48 129.01 L54.01 125.61 L55.26 128.41 L55.80 125.13 L57.05 127.93 L57.58 124.74 L58.83 127.54 L59.37 124.42 L60.61 127.22 L61.15 124.15 L62.40 126.95 L62.93 123.86 L64.18 126.66 L64.72 123.51 L65.96 126.31 L66.50 122.90" stroke="#0a0aff" stroke-width="0.85" fill="none" stroke-linejoin="miter" stroke-miterlimit="10"/>
<path d="M48.13 134.00L48.66 128.21M49.91 131.01L50.45 127.16M51.70 129.96L52.23 126.21M53.48 129.01L54.01 125.61M55.26 128.41L55.80 125.13M57.05 127.93L57.58 124.74M58.83 127.54L59.37 124.42M60.61 127.22L61.15 124.15M62.40 126.95L62.93 123.86M64.18 126.66L64.72 123.51M65.96 126.31L66.50 122.90" stroke="#0a0aff" stroke-width="0" fill="none"/>
<path d="M66.50 122.90 L67.00 124.15 L68.00 126.38 L69.00 128.32 L70.00 129.98 L71.00 131.36 L72.00 132.51 L73.00 133.47 L74.00 134.26 L75.00 134.94 L76.00 135.51 L77.00 136.02 L78.00 136.48 L79.00 136.90 L80.00 137.28 L81.00 137.65 L82.00 138.01 L83.00 138.35 L84.00 138.69 L85.00 139.02 L86.00 139.35 L87.00 139.68 L88.00 140.00 L89.00 140.32 L90.00 140.64 L91.00 140.97 L92.00 141.29 L93.00 141.60 L94.00 141.92 L95.00 142.24 L96.00 142.56 L97.00 142.88 L98.00 143.20 L99.00 143.52 L100.00 143.84 L101.00 144.16 L102.00 144.48 L103.00 144.79 L104.00 145.11 L105.00 145.43 L106.00 145.75 L107.00 146.07 L108.00 146.39 L109.00 146.70 L110.00 147.02 L111.00 147.34 L112.00 147.66 L113.00 147.98 L114.00 148.30 L115.00 148.61 L116.00 148.93 L117.00 149.25 L118.00 149.57 L119.00 149.89 L120.00 150.20 L121.00 150.52 L122.00 150.84 L123.00 151.16 L124.00 151.48 L125.00 151.79 L126.00 152.11 L127.00 152.43 L128.00 152.75 L129.00 153.07 L130.00 153.38 L131.00 153.70 L132.00 154.02 L133.00 154.34 L134.00 154.65 L135.00 154.97 L136.00 155.29 L137.00 155.61 L138.00 155.93 L139.00 156.24 L140.00 156.56 L141.00 156.88 L142.00 157.20 L143.00 157.51 L144.00 157.83 L145.00 158.15 L146.00 158.47 L147.00 158.78 L148.00 159.10 L149.00 159.42 L150.00 159.73 L151.00 160.05 L152.00 160.37 L153.00 160.69 L154.00 161.00 L155.00 161.32 L156.00 161.64 L157.00 161.95 L158.00 162.27 L159.00 162.59 L160.00 162.91 L161.00 163.22 L162.00 163.54 L163.00 163.86 L164.00 164.17 L165.00 164.49 L166.00 164.81 L167.00 165.13 L168.00 165.44 L169.00 165.76 L170.00 166.08 L171.00 166.39 L172.00 166.71 L173.00 167.03 L174.00 167.34 L175.00 167.66 L176.00 167.98 L177.00 168.29 L178.00 168.61 L179.00 168.93 L180.00 169.24 L181.00 169.56 L182.00 169.88 L183.00 170.19 L184.00 170.51 L185.00 170.83 L186.00 171.14 L187.00 171.46 L188.00 171.78 L189.00 172.09 L190.00 172.41 L191.00 172.73 L192.00 173.04 L193.00 173.36 L194.00 173.67 L195.00 173.99 L196.00 174.31 L197.00 174.62 L198.00 174.94 L199.00 175.26 L200.00 175.57 L201.00 175.89 L202.00 176.20 L203.00 176.52 L204.00 176.84 L205.00 177.15 L206.00 177.47 L207.00 177.79 L208.00 178.10 L209.00 178.42 L210.00 178.73 L211.00 179.05 L212.00 179.37 L213.00 179.68 L214.00 180.00 L215.00 180.31 L216.00 180.63 L217.00 180.95 L218.00 181.26 L219.00 181.58 L220.00 181.89 L221.00 182.21 L222.00 182.53 L223.00 182.84 L223.50 183.40" stroke="#0a0aff" stroke-width="0.85" fill="none" stroke-linejoin="round"/>
<circle cx="45.18" cy="136.50" r="0.85" fill="#0a0aff"/>
<circle cx="46.78" cy="131.30" r="0.85" fill="#0a0aff"/>
<circle cx="69.4289" cy="129.7" r="2.35" stroke="#f81818" stroke-width="0.68" fill="none"/>
<circle cx="94.5778" cy="142.1" r="2.35" stroke="#f81818" stroke-width="0.68" fill="none"/>
</g>
<rect x="35.25" y="119.5" width="197.25" height="67.00" fill="none" stroke="#333" stroke-width="0.75"/>
<rect x="35.25" y="101.7" width="197.25" height="17.80" fill="#d9d9d9" stroke="#333" stroke-width="0.75"/>
<text transform="translate(133.88 115.40) scale(1.04 1)" font-size="11.5" font-weight="bold" fill="#1a1a1a" text-anchor="middle">14</text>
<text transform="translate(30.65 137.30) rotate(0.03) scale(1.08 1)" font-size="10.6" fill="#484848" stroke="#484848" stroke-width="0.22" text-anchor="end">100</text>
<text transform="translate(30.65 160.90) rotate(0.03) scale(1.08 1)" font-size="10.6" fill="#484848" stroke="#484848" stroke-width="0.22" text-anchor="end">10</text>
<text transform="translate(30.65 184.50) rotate(0.03) scale(1.08 1)" font-size="10.6" fill="#484848" stroke="#484848" stroke-width="0.22" text-anchor="end">1</text>
<text transform="translate(43.78 197.80) rotate(0.03) scale(1 1.08)" font-size="9.1" fill="#484848" stroke="#484848" stroke-width="0.22" text-anchor="middle">0</text>
<text transform="translate(58.15 197.80) rotate(0.03) scale(1 1.08)" font-size="9.1" fill="#484848" stroke="#484848" stroke-width="0.22" text-anchor="middle">4</text>
<text transform="translate(72.52 197.80) rotate(0.03) scale(1 1.08)" font-size="9.1" fill="#484848" stroke="#484848" stroke-width="0.22" text-anchor="middle">8</text>
<text transform="translate(86.89 197.80) rotate(0.03) scale(1 1.08)" font-size="9.1" fill="#484848" stroke="#484848" stroke-width="0.22" text-anchor="middle">12</text>
<text transform="translate(101.26 197.80) rotate(0.03) scale(1 1.08)" font-size="9.1" fill="#484848" stroke="#484848" stroke-width="0.22" text-anchor="middle">16</text>
<text transform="translate(115.63 197.80) rotate(0.03) scale(1 1.08)" font-size="9.1" fill="#484848" stroke="#484848" stroke-width="0.22" text-anchor="middle">20</text>
<text transform="translate(130.00 197.80) rotate(0.03) scale(1 1.08)" font-size="9.1" fill="#484848" stroke="#484848" stroke-width="0.22" text-anchor="middle">24</text>
<text transform="translate(144.38 197.80) rotate(0.03) scale(1 1.08)" font-size="9.1" fill="#484848" stroke="#484848" stroke-width="0.22" text-anchor="middle">28</text>
<text transform="translate(158.75 197.80) rotate(0.03) scale(1 1.08)" font-size="9.1" fill="#484848" stroke="#484848" stroke-width="0.22" text-anchor="middle">32</text>
<text transform="translate(173.12 197.80) rotate(0.03) scale(1 1.08)" font-size="9.1" fill="#484848" stroke="#484848" stroke-width="0.22" text-anchor="middle">36</text>
<text transform="translate(187.49 197.80) rotate(0.03) scale(1 1.08)" font-size="9.1" fill="#484848" stroke="#484848" stroke-width="0.22" text-anchor="middle">40</text>
<text transform="translate(201.86 197.80) rotate(0.03) scale(1 1.08)" font-size="9.1" fill="#484848" stroke="#484848" stroke-width="0.22" text-anchor="middle">44</text>
<text transform="translate(216.23 197.80) rotate(0.03) scale(1 1.08)" font-size="9.1" fill="#484848" stroke="#484848" stroke-width="0.22" text-anchor="middle">48</text>
<text transform="translate(230.60 197.80) rotate(0.03) scale(1 1.08)" font-size="9.1" fill="#484848" stroke="#484848" stroke-width="0.22" text-anchor="middle">52</text>
<path d="M32.45 133.20H35.25M32.45 156.80H35.25M32.45 180.40H35.25M44.28 186.5V188.20M58.65 186.5V188.20M73.02 186.5V188.20M87.39 186.5V188.20M101.76 186.5V188.20M116.13 186.5V188.20M130.50 186.5V188.20M144.88 186.5V188.20M159.25 186.5V188.20M173.62 186.5V188.20M187.99 186.5V188.20M202.36 186.5V188.20M216.73 186.5V188.20M231.10 186.5V188.20" stroke="#333" stroke-width="0.75" fill="none"/>
</g>
<g>
<clipPath id="c4"><rect x="259.5" y="119.5" width="198.0" height="67.00"/></clipPath>
<g clip-path="url(#c4)">
<path d="M259.5 186.05H457.5M259.5 183.41H457.5M259.5 181.17H457.5M259.5 179.24H457.5M259.5 177.53H457.5M259.5 165.95H457.5M259.5 155.89H457.5M259.5 152.65H457.5M259.5 150.01H457.5M259.5 147.77H457.5M259.5 145.84H457.5M259.5 144.13H457.5M259.5 132.55H457.5M259.5 122.49H457.5M261.49 119.5V186.5M275.87 119.5V186.5M290.24 119.5V186.5M304.61 119.5V186.5M318.98 119.5V186.5M333.35 119.5V186.5M347.72 119.5V186.5M362.09 119.5V186.5M376.46 119.5V186.5M390.83 119.5V186.5M405.20 119.5V186.5M419.57 119.5V186.5M433.94 119.5V186.5M448.31 119.5V186.5" stroke="#e9e9e9" stroke-width="0.55" fill="none"/>
<path d="M259.5 176.00H457.5M259.5 160.06H457.5M259.5 142.60H457.5M259.5 126.66H457.5M268.68 119.5V186.5M283.05 119.5V186.5M297.42 119.5V186.5M311.79 119.5V186.5M326.16 119.5V186.5M340.53 119.5V186.5M354.90 119.5V186.5M369.28 119.5V186.5M383.65 119.5V186.5M398.02 119.5V186.5M412.39 119.5V186.5M426.76 119.5V186.5M441.13 119.5V186.5M455.50 119.5V186.5" stroke="#e6e6e6" stroke-width="0.7" fill="none"/>
<path d="M269.05 187.50 L269.05 149.50 L269.68 148.90 L270.28 149.40 L270.58 141.20 L271.28 140.20" stroke="#0a0aff" stroke-width="0.7" fill="none" stroke-linejoin="round"/>
<path d="M271.28 140.20 L271.28 140.20 L272.54 141.70 L273.08 136.56 L274.34 138.06 L274.88 133.45 L276.14 134.95 L276.69 131.46 L277.95 132.96 L278.49 129.84 L279.75 131.34 L280.29 128.48 L281.55 129.98 L282.09 127.24 L283.35 128.74 L283.89 126.07 L285.15 127.57 L285.69 125.09 L286.95 126.59 L287.50 124.35 L288.76 125.85 L289.30 123.73 L290.56 125.23 L291.10 123.23 L292.36 124.73 L292.90 122.90" stroke="#0a0aff" stroke-width="0.85" fill="none" stroke-linejoin="miter" stroke-miterlimit="10"/>
<path d="M272.54 141.70L273.08 136.56M274.34 138.06L274.88 133.45M276.14 134.95L276.69 131.46M277.95 132.96L278.49 129.84M279.75 131.34L280.29 128.48M281.55 129.98L282.09 127.24M283.35 128.74L283.89 126.07M285.15 127.57L285.69 125.09M286.95 126.59L287.50 124.35M288.76 125.85L289.30 123.73M290.56 125.23L291.10 123.23M292.36 124.73L292.90 122.90" stroke="#0a0aff" stroke-width="0" fill="none"/>
<path d="M292.90 122.90 L293.40 123.74 L294.40 125.08 L295.40 126.20 L296.40 127.18 L297.40 128.06 L298.40 128.86 L299.40 129.57 L300.40 130.22 L301.40 130.82 L302.40 131.36 L303.40 131.85 L304.40 132.32 L305.40 132.74 L306.40 133.15 L307.40 133.53 L308.40 133.89 L309.40 134.24 L310.40 134.57 L311.40 134.90 L312.40 135.21 L313.40 135.52 L314.40 135.82 L315.40 136.12 L316.40 136.41 L317.40 136.70 L318.40 136.98 L319.40 137.27 L320.40 137.55 L321.40 137.83 L322.40 138.11 L323.40 138.38 L324.40 138.66 L325.40 138.94 L326.40 139.21 L327.40 139.49 L328.40 139.76 L329.40 140.03 L330.40 140.31 L331.40 140.58 L332.40 140.85 L333.40 141.13 L334.40 141.40 L335.40 141.67 L336.40 141.94 L337.40 142.22 L338.40 142.49 L339.40 142.76 L340.40 143.03 L341.40 143.30 L342.40 143.58 L343.40 143.85 L344.40 144.12 L345.40 144.39 L346.40 144.66 L347.40 144.94 L348.40 145.21 L349.40 145.48 L350.40 145.75 L351.40 146.02 L352.40 146.30 L353.40 146.57 L354.40 146.84 L355.40 147.11 L356.40 147.38 L357.40 147.66 L358.40 147.93 L359.40 148.20 L360.40 148.47 L361.40 148.74 L362.40 149.02 L363.40 149.29 L364.40 149.56 L365.40 149.83 L366.40 150.10 L367.40 150.38 L368.40 150.65 L369.40 150.92 L370.40 151.19 L371.40 151.46 L372.40 151.74 L373.40 152.01 L374.40 152.28 L375.40 152.55 L376.40 152.82 L377.40 153.10 L378.40 153.37 L379.40 153.64 L380.40 153.91 L381.40 154.18 L382.40 154.46 L383.40 154.73 L384.40 155.00 L385.40 155.27 L386.40 155.54 L387.40 155.82 L388.40 156.09 L389.40 156.36 L390.40 156.63 L391.40 156.90 L392.40 157.18 L393.40 157.45 L394.40 157.72 L395.40 157.99 L396.40 158.26 L397.40 158.54 L398.40 158.81 L399.40 159.08 L400.40 159.35 L401.40 159.62 L402.40 159.90 L403.40 160.17 L404.40 160.44 L405.40 160.71 L406.40 160.98 L407.40 161.26 L408.40 161.53 L409.40 161.80 L410.40 162.07 L411.40 162.34 L412.40 162.62 L413.40 162.89 L414.40 163.16 L415.40 163.43 L416.40 163.70 L417.40 163.98 L418.40 164.25 L419.40 164.52 L420.40 164.79 L421.40 165.06 L422.40 165.34 L423.40 165.61 L424.40 165.88 L425.40 166.15 L426.40 166.42 L427.40 166.70 L428.40 166.97 L429.40 167.24 L430.40 167.51 L431.40 167.78 L432.40 168.06 L433.40 168.33 L434.40 168.60 L435.40 168.87 L436.40 169.14 L437.40 169.42 L438.40 169.69 L439.40 169.96 L440.40 170.23 L441.40 170.50 L442.40 170.78 L443.40 171.05 L444.40 171.32 L445.40 171.59 L446.40 171.86 L447.40 172.14 L448.00 172.30" stroke="#0a0aff" stroke-width="0.85" fill="none" stroke-linejoin="round"/>
<circle cx="269.58" cy="149.00" r="0.85" fill="#0a0aff"/>
<circle cx="271.18" cy="140.30" r="0.85" fill="#0a0aff"/>
<circle cx="283.0508" cy="124.5" r="2.35" stroke="#f81818" stroke-width="0.68" fill="none"/>
<circle cx="275.8654" cy="148.9" r="2.35" stroke="#f81818" stroke-width="0.68" fill="none"/>
</g>
<rect x="259.5" y="119.5" width="198.0" height="67.00" fill="none" stroke="#333" stroke-width="0.75"/>
<rect x="259.5" y="101.7" width="198.0" height="17.80" fill="#d9d9d9" stroke="#333" stroke-width="0.75"/>
<text transform="translate(358.50 115.40) scale(1.04 1)" font-size="11.5" font-weight="bold" fill="#1a1a1a" text-anchor="middle">21</text>
<text transform="translate(254.90 130.76) rotate(0.03) scale(1.08 1)" font-size="10.6" fill="#484848" stroke="#484848" stroke-width="0.22" text-anchor="end">300</text>
<text transform="translate(254.90 146.70) rotate(0.03) scale(1.08 1)" font-size="10.6" fill="#484848" stroke="#484848" stroke-width="0.22" text-anchor="end">100</text>
<text transform="translate(254.90 164.16) rotate(0.03) scale(1.08 1)" font-size="10.6" fill="#484848" stroke="#484848" stroke-width="0.22" text-anchor="end">30</text>
<text transform="translate(254.90 180.10) rotate(0.03) scale(1.08 1)" font-size="10.6" fill="#484848" stroke="#484848" stroke-width="0.22" text-anchor="end">10</text>
<text transform="translate(268.18 197.80) rotate(0.03) scale(1 1.08)" font-size="9.1" fill="#484848" stroke="#484848" stroke-width="0.22" text-anchor="middle">0</text>
<text transform="translate(282.55 197.80) rotate(0.03) scale(1 1.08)" font-size="9.1" fill="#484848" stroke="#484848" stroke-width="0.22" text-anchor="middle">4</text>
<text transform="translate(296.92 197.80) rotate(0.03) scale(1 1.08)" font-size="9.1" fill="#484848" stroke="#484848" stroke-width="0.22" text-anchor="middle">8</text>
<text transform="translate(311.29 197.80) rotate(0.03) scale(1 1.08)" font-size="9.1" fill="#484848" stroke="#484848" stroke-width="0.22" text-anchor="middle">12</text>
<text transform="translate(325.66 197.80) rotate(0.03) scale(1 1.08)" font-size="9.1" fill="#484848" stroke="#484848" stroke-width="0.22" text-anchor="middle">16</text>
<text transform="translate(340.03 197.80) rotate(0.03) scale(1 1.08)" font-size="9.1" fill="#484848" stroke="#484848" stroke-width="0.22" text-anchor="middle">20</text>
<text transform="translate(354.40 197.80) rotate(0.03) scale(1 1.08)" font-size="9.1" fill="#484848" stroke="#484848" stroke-width="0.22" text-anchor="middle">24</text>
<text transform="translate(368.78 197.80) rotate(0.03) scale(1 1.08)" font-size="9.1" fill="#484848" stroke="#484848" stroke-width="0.22" text-anchor="middle">28</text>
<text transform="translate(383.15 197.80) rotate(0.03) scale(1 1.08)" font-size="9.1" fill="#484848" stroke="#484848" stroke-width="0.22" text-anchor="middle">32</text>
<text transform="translate(397.52 197.80) rotate(0.03) scale(1 1.08)" font-size="9.1" fill="#484848" stroke="#484848" stroke-width="0.22" text-anchor="middle">36</text>
<text transform="translate(411.89 197.80) rotate(0.03) scale(1 1.08)" font-size="9.1" fill="#484848" stroke="#484848" stroke-width="0.22" text-anchor="middle">40</text>
<text transform="translate(426.26 197.80) rotate(0.03) scale(1 1.08)" font-size="9.1" fill="#484848" stroke="#484848" stroke-width="0.22" text-anchor="middle">44</text>
<text transform="translate(440.63 197.80) rotate(0.03) scale(1 1.08)" font-size="9.1" fill="#484848" stroke="#484848" stroke-width="0.22" text-anchor="middle">48</text>
<text transform="translate(455.00 197.80) rotate(0.03) scale(1 1.08)" font-size="9.1" fill="#484848" stroke="#484848" stroke-width="0.22" text-anchor="middle">52</text>
<path d="M256.70 126.66H259.5M256.70 142.60H259.5M256.70 160.06H259.5M256.70 176.00H259.5M268.68 186.5V188.20M283.05 186.5V188.20M297.42 186.5V188.20M311.79 186.5V188.20M326.16 186.5V188.20M340.53 186.5V188.20M354.90 186.5V188.20M369.28 186.5V188.20M383.65 186.5V188.20M398.02 186.5V188.20M412.39 186.5V188.20M426.76 186.5V188.20M441.13 186.5V188.20M455.50 186.5V188.20" stroke="#333" stroke-width="0.75" fill="none"/>
</g>
<g>
<clipPath id="c5"><rect x="484.1" y="119.5" width="197.39999999999998" height="67.00"/></clipPath>
<g clip-path="url(#c5)">
<path d="M484.1 184.27H681.5M484.1 181.60H681.5M484.1 179.34H681.5M484.1 177.38H681.5M484.1 175.65H681.5M484.1 163.93H681.5M484.1 153.75H681.5M484.1 150.47H681.5M484.1 147.80H681.5M484.1 145.54H681.5M484.1 143.58H681.5M484.1 141.85H681.5M484.1 130.13H681.5M484.1 119.95H681.5M486.09 119.5V186.5M500.47 119.5V186.5M514.84 119.5V186.5M529.21 119.5V186.5M543.58 119.5V186.5M557.95 119.5V186.5M572.32 119.5V186.5M586.69 119.5V186.5M601.06 119.5V186.5M615.43 119.5V186.5M629.80 119.5V186.5M644.17 119.5V186.5M658.54 119.5V186.5M672.91 119.5V186.5" stroke="#e9e9e9" stroke-width="0.55" fill="none"/>
<path d="M484.1 174.10H681.5M484.1 157.97H681.5M484.1 140.30H681.5M484.1 124.17H681.5M493.28 119.5V186.5M507.65 119.5V186.5M522.02 119.5V186.5M536.39 119.5V186.5M550.76 119.5V186.5M565.13 119.5V186.5M579.50 119.5V186.5M593.88 119.5V186.5M608.25 119.5V186.5M622.62 119.5V186.5M636.99 119.5V186.5M651.36 119.5V186.5M665.73 119.5V186.5M680.10 119.5V186.5" stroke="#e6e6e6" stroke-width="0.7" fill="none"/>
<path d="M493.65 187.50 L493.65 148.10 L494.28 147.50 L494.88 148.00 L495.18 139.30 L495.88 138.30" stroke="#0a0aff" stroke-width="0.7" fill="none" stroke-linejoin="round"/>
<path d="M495.88 138.30 L495.88 138.30 L497.10 139.60 L497.63 134.42 L498.85 135.72 L499.37 131.51 L500.59 132.81 L501.12 129.09 L502.34 130.39 L502.86 126.86 L504.08 128.16 L504.61 125.02 L505.83 126.32 L506.35 123.54 L507.58 124.84 L508.10 122.40" stroke="#0a0aff" stroke-width="0.85" fill="none" stroke-linejoin="miter" stroke-miterlimit="10"/>
<path d="M497.10 139.60L497.63 134.42M498.85 135.72L499.37 131.51M500.59 132.81L501.12 129.09M502.34 130.39L502.86 126.86M504.08 128.16L504.61 125.02M505.83 126.32L506.35 123.54M507.58 124.84L508.10 122.40" stroke="#0a0aff" stroke-width="0" fill="none"/>
<path d="M508.10 122.40 L508.60 123.05 L509.60 124.27 L510.60 125.37 L511.60 126.36 L512.60 127.26 L513.60 128.06 L514.60 128.79 L515.60 129.44 L516.60 130.04 L517.60 130.58 L518.60 131.07 L519.60 131.53 L520.60 131.95 L521.60 132.35 L522.60 132.72 L523.60 133.07 L524.60 133.41 L525.60 133.73 L526.60 134.04 L527.60 134.35 L528.60 134.64 L529.60 134.93 L530.60 135.21 L531.60 135.49 L532.60 135.76 L533.60 136.03 L534.60 136.30 L535.60 136.56 L536.60 136.83 L537.60 137.09 L538.60 137.35 L539.60 137.61 L540.60 137.87 L541.60 138.13 L542.60 138.39 L543.60 138.64 L544.60 138.90 L545.60 139.16 L546.60 139.41 L547.60 139.67 L548.60 139.93 L549.60 140.18 L550.60 140.44 L551.60 140.69 L552.60 140.95 L553.60 141.21 L554.60 141.46 L555.60 141.72 L556.60 141.97 L557.60 142.23 L558.60 142.48 L559.60 142.74 L560.60 142.99 L561.60 143.25 L562.60 143.51 L563.60 143.76 L564.60 144.02 L565.60 144.27 L566.60 144.53 L567.60 144.78 L568.60 145.04 L569.60 145.29 L570.60 145.55 L571.60 145.80 L572.60 146.06 L573.60 146.32 L574.60 146.57 L575.60 146.83 L576.60 147.08 L577.60 147.34 L578.60 147.59 L579.60 147.85 L580.60 148.10 L581.60 148.36 L582.60 148.61 L583.60 148.87 L584.60 149.12 L585.60 149.38 L586.60 149.64 L587.60 149.89 L588.60 150.15 L589.60 150.40 L590.60 150.66 L591.60 150.91 L592.60 151.17 L593.60 151.42 L594.60 151.68 L595.60 151.93 L596.60 152.19 L597.60 152.44 L598.60 152.70 L599.60 152.96 L600.60 153.21 L601.60 153.47 L602.60 153.72 L603.60 153.98 L604.60 154.23 L605.60 154.49 L606.60 154.74 L607.60 155.00 L608.60 155.25 L609.60 155.51 L610.60 155.77 L611.60 156.02 L612.60 156.28 L613.60 156.53 L614.60 156.79 L615.60 157.04 L616.60 157.30 L617.60 157.55 L618.60 157.81 L619.60 158.06 L620.60 158.32 L621.60 158.57 L622.60 158.83 L623.60 159.09 L624.60 159.34 L625.60 159.60 L626.60 159.85 L627.60 160.11 L628.60 160.36 L629.60 160.62 L630.60 160.87 L631.60 161.13 L632.60 161.38 L633.60 161.64 L634.60 161.89 L635.60 162.15 L636.60 162.41 L637.60 162.66 L638.60 162.92 L639.60 163.17 L640.60 163.43 L641.60 163.68 L642.60 163.94 L643.60 164.19 L644.60 164.45 L645.60 164.70 L646.60 164.96 L647.60 165.21 L648.60 165.47 L649.60 165.73 L650.60 165.98 L651.60 166.24 L652.60 166.49 L653.60 166.75 L654.60 167.00 L655.60 167.26 L656.60 167.51 L657.60 167.77 L658.60 168.02 L659.60 168.28 L660.60 168.54 L661.60 168.79 L662.60 169.05 L663.60 169.30 L664.60 169.56 L665.60 169.81 L666.60 170.07 L667.60 170.32 L668.60 170.58 L669.60 170.83 L670.60 171.09 L671.60 171.34 L672.60 171.60" stroke="#0a0aff" stroke-width="0.85" fill="none" stroke-linejoin="round"/>
<circle cx="494.18" cy="147.60" r="0.85" fill="#0a0aff"/>
<circle cx="495.78" cy="138.40" r="0.85" fill="#0a0aff"/>
<circle cx="518.4289" cy="130.7" r="2.35" stroke="#f81818" stroke-width="0.68" fill="none"/>
<circle cx="532.7997" cy="133.2" r="2.35" stroke="#f81818" stroke-width="0.68" fill="none"/>
<circle cx="554.3559" cy="145.6" r="2.35" stroke="#f81818" stroke-width="0.68" fill="none"/>
<circle cx="572.3194" cy="140.5" r="2.35" stroke="#f81818" stroke-width="0.68" fill="none"/>
<circle cx="575.9121" cy="149.4" r="2.35" stroke="#f81818" stroke-width="0.68" fill="none"/>
<circle cx="583.0975" cy="146.6" r="2.35" stroke="#f81818" stroke-width="0.68" fill="none"/>
<circle cx="597.4683" cy="146.5" r="2.35" stroke="#f81818" stroke-width="0.68" fill="none"/>
<circle cx="604.6537" cy="152.2" r="2.35" stroke="#f81818" stroke-width="0.68" fill="none"/>
<circle cx="611.8390999999999" cy="154.5" r="2.35" stroke="#f81818" stroke-width="0.68" fill="none"/>
<circle cx="622.6171999999999" cy="163.7" r="2.35" stroke="#f81818" stroke-width="0.68" fill="none"/>
<circle cx="636.9879999999999" cy="163" r="2.35" stroke="#f81818" stroke-width="0.68" fill="none"/>
</g>
<rect x="484.1" y="119.5" width="197.39999999999998" height="67.00" fill="none" stroke="#333" stroke-width="0.75"/>
<rect x="484.1" y="101.7" width="197.39999999999998" height="17.80" fill="#d9d9d9" stroke="#333" stroke-width="0.75"/>
<text transform="translate(582.80 115.40) scale(1.04 1)" font-size="11.5" font-weight="bold" fill="#1a1a1a" text-anchor="middle">31</text>
<text transform="translate(479.50 128.27) rotate(0.03) scale(1.08 1)" font-size="10.6" fill="#484848" stroke="#484848" stroke-width="0.22" text-anchor="end">300</text>
<text transform="translate(479.50 144.40) rotate(0.03) scale(1.08 1)" font-size="10.6" fill="#484848" stroke="#484848" stroke-width="0.22" text-anchor="end">100</text>
<text transform="translate(479.50 162.07) rotate(0.03) scale(1.08 1)" font-size="10.6" fill="#484848" stroke="#484848" stroke-width="0.22" text-anchor="end">30</text>
<text transform="translate(479.50 178.20) rotate(0.03) scale(1.08 1)" font-size="10.6" fill="#484848" stroke="#484848" stroke-width="0.22" text-anchor="end">10</text>
<text transform="translate(492.78 197.80) rotate(0.03) scale(1 1.08)" font-size="9.1" fill="#484848" stroke="#484848" stroke-width="0.22" text-anchor="middle">0</text>
<text transform="translate(507.15 197.80) rotate(0.03) scale(1 1.08)" font-size="9.1" fill="#484848" stroke="#484848" stroke-width="0.22" text-anchor="middle">4</text>
<text transform="translate(521.52 197.80) rotate(0.03) scale(1 1.08)" font-size="9.1" fill="#484848" stroke="#484848" stroke-width="0.22" text-anchor="middle">8</text>
<text transform="translate(535.89 197.80) rotate(0.03) scale(1 1.08)" font-size="9.1" fill="#484848" stroke="#484848" stroke-width="0.22" text-anchor="middle">12</text>
<text transform="translate(550.26 197.80) rotate(0.03) scale(1 1.08)" font-size="9.1" fill="#484848" stroke="#484848" stroke-width="0.22" text-anchor="middle">16</text>
<text transform="translate(564.63 197.80) rotate(0.03) scale(1 1.08)" font-size="9.1" fill="#484848" stroke="#484848" stroke-width="0.22" text-anchor="middle">20</text>
<text transform="translate(579.00 197.80) rotate(0.03) scale(1 1.08)" font-size="9.1" fill="#484848" stroke="#484848" stroke-width="0.22" text-anchor="middle">24</text>
<text transform="translate(593.38 197.80) rotate(0.03) scale(1 1.08)" font-size="9.1" fill="#484848" stroke="#484848" stroke-width="0.22" text-anchor="middle">28</text>
<text transform="translate(607.75 197.80) rotate(0.03) scale(1 1.08)" font-size="9.1" fill="#484848" stroke="#484848" stroke-width="0.22" text-anchor="middle">32</text>
<text transform="translate(622.12 197.80) rotate(0.03) scale(1 1.08)" font-size="9.1" fill="#484848" stroke="#484848" stroke-width="0.22" text-anchor="middle">36</text>
<text transform="translate(636.49 197.80) rotate(0.03) scale(1 1.08)" font-size="9.1" fill="#484848" stroke="#484848" stroke-width="0.22" text-anchor="middle">40</text>
<text transform="translate(650.86 197.80) rotate(0.03) scale(1 1.08)" font-size="9.1" fill="#484848" stroke="#484848" stroke-width="0.22" text-anchor="middle">44</text>
<text transform="translate(665.23 197.80) rotate(0.03) scale(1 1.08)" font-size="9.1" fill="#484848" stroke="#484848" stroke-width="0.22" text-anchor="middle">48</text>
<text transform="translate(679.60 197.80) rotate(0.03) scale(1 1.08)" font-size="9.1" fill="#484848" stroke="#484848" stroke-width="0.22" text-anchor="middle">52</text>
<path d="M481.30 124.17H484.1M481.30 140.30H484.1M481.30 157.97H484.1M481.30 174.10H484.1M493.28 186.5V188.20M507.65 186.5V188.20M522.02 186.5V188.20M536.39 186.5V188.20M550.76 186.5V188.20M565.13 186.5V188.20M579.50 186.5V188.20M593.88 186.5V188.20M608.25 186.5V188.20M622.62 186.5V188.20M636.99 186.5V188.20M651.36 186.5V188.20M665.73 186.5V188.20M680.10 186.5V188.20" stroke="#333" stroke-width="0.75" fill="none"/>
</g>
<g>
<clipPath id="c6"><rect x="35.25" y="221.1" width="197.25" height="66.85"/></clipPath>
<g clip-path="url(#c6)">
<path d="M35.25 280.15H232.5M35.25 277.58H232.5M35.25 275.48H232.5M35.25 273.70H232.5M35.25 272.17H232.5M35.25 270.81H232.5M35.25 261.62H232.5M35.25 253.65H232.5M35.25 251.08H232.5M35.25 248.98H232.5M35.25 247.20H232.5M35.25 245.67H232.5M35.25 244.31H232.5M35.25 235.12H232.5M35.25 227.15H232.5M35.25 224.58H232.5M35.25 222.48H232.5M37.09 221.1V287.95M51.47 221.1V287.95M65.84 221.1V287.95M80.21 221.1V287.95M94.58 221.1V287.95M108.95 221.1V287.95M123.32 221.1V287.95M137.69 221.1V287.95M152.06 221.1V287.95M166.43 221.1V287.95M180.80 221.1V287.95M195.17 221.1V287.95M209.54 221.1V287.95M223.91 221.1V287.95" stroke="#e9e9e9" stroke-width="0.55" fill="none"/>
<path d="M35.25 283.46H232.5M35.25 269.60H232.5M35.25 256.96H232.5M35.25 243.10H232.5M35.25 230.46H232.5M44.28 221.1V287.95M58.65 221.1V287.95M73.02 221.1V287.95M87.39 221.1V287.95M101.76 221.1V287.95M116.13 221.1V287.95M130.50 221.1V287.95M144.88 221.1V287.95M159.25 221.1V287.95M173.62 221.1V287.95M187.99 221.1V287.95M202.36 221.1V287.95M216.73 221.1V287.95M231.10 221.1V287.95" stroke="#e6e6e6" stroke-width="0.7" fill="none"/>
<path d="M44.65 288.95 L44.65 246.90 L45.28 246.30 L45.88 246.80 L46.18 240.30 L46.88 239.30" stroke="#0a0aff" stroke-width="0.7" fill="none" stroke-linejoin="round"/>
<path d="M46.88 239.30 L46.88 239.30 L48.13 240.30 L48.66 235.86 L49.91 236.86 L50.45 233.44 L51.69 234.44 L52.23 231.77 L53.48 232.77 L54.01 230.63 L55.26 231.63 L55.79 229.72 L57.04 230.72 L57.58 228.89 L58.82 229.89 L59.36 228.09 L60.61 229.09 L61.14 227.37 L62.39 228.37 L62.92 226.72 L64.17 227.72 L64.71 226.15 L65.95 227.15 L66.49 225.63 L67.74 226.63 L68.27 225.18 L69.52 226.18 L70.05 224.79 L71.30 225.79 L71.84 224.45 L73.08 225.45 L73.62 224.15 L74.87 225.15 L75.40 223.90" stroke="#0a0aff" stroke-width="0.85" fill="none" stroke-linejoin="miter" stroke-miterlimit="10"/>
<path d="M48.13 240.30L48.66 235.86M49.91 236.86L50.45 233.44M51.69 234.44L52.23 231.77M53.48 232.77L54.01 230.63M55.26 231.63L55.79 229.72M57.04 230.72L57.58 228.89M58.82 229.89L59.36 228.09M60.61 229.09L61.14 227.37M62.39 228.37L62.92 226.72M64.17 227.72L64.71 226.15M65.95 227.15L66.49 225.63M67.74 226.63L68.27 225.18M69.52 226.18L70.05 224.79M71.30 225.79L71.84 224.45M73.08 225.45L73.62 224.15M74.87 225.15L75.40 223.90" stroke="#0a0aff" stroke-width="0" fill="none"/>
<path d="M75.40 223.90 L75.90 224.60 L76.90 225.53 L77.90 226.16 L78.90 226.67 L79.90 227.14 L80.90 227.59 L81.90 228.03 L82.90 228.46 L83.90 228.90 L84.90 229.33 L85.90 229.76 L86.90 230.19 L87.90 230.61 L88.90 231.04 L89.90 231.46 L90.90 231.89 L91.90 232.31 L92.90 232.73 L93.90 233.15 L94.90 233.57 L95.90 233.99 L96.90 234.40 L97.90 234.82 L98.90 235.24 L99.90 235.65 L100.90 236.06 L101.90 236.48 L102.90 236.89 L103.90 237.30 L104.90 237.71 L105.90 238.12 L106.90 238.53 L107.90 238.94 L108.90 239.34 L109.90 239.75 L110.90 240.16 L111.90 240.56 L112.90 240.97 L113.90 241.37 L114.90 241.78 L115.90 242.18 L116.90 242.58 L117.90 242.99 L118.90 243.39 L119.90 243.79 L120.90 244.19 L121.90 244.59 L122.90 244.99 L123.90 245.39 L124.90 245.79 L125.90 246.19 L126.90 246.59 L127.90 246.99 L128.90 247.39 L129.90 247.79 L130.90 248.18 L131.90 248.58 L132.90 248.98 L133.90 249.38 L134.90 249.77 L135.90 250.17 L136.90 250.57 L137.90 250.96 L138.90 251.36 L139.90 251.75 L140.90 252.15 L141.90 252.54 L142.90 252.94 L143.90 253.33 L144.90 253.73 L145.90 254.12 L146.90 254.52 L147.90 254.91 L148.90 255.30 L149.90 255.70 L150.90 256.09 L151.90 256.48 L152.90 256.88 L153.90 257.27 L154.90 257.66 L155.90 258.06 L156.90 258.45 L157.90 258.84 L158.90 259.24 L159.90 259.63 L160.90 260.02 L161.90 260.41 L162.90 260.81 L163.90 261.20 L164.90 261.59 L165.90 261.98 L166.90 262.37 L167.90 262.77 L168.90 263.16 L169.90 263.55 L170.90 263.94 L171.90 264.33 L172.90 264.72 L173.90 265.12 L174.90 265.51 L175.90 265.90 L176.90 266.29 L177.90 266.68 L178.90 267.07 L179.90 267.46 L180.90 267.86 L181.90 268.25 L182.90 268.64 L183.90 269.03 L184.90 269.42 L185.90 269.81 L186.90 270.20 L187.90 270.59 L188.90 270.98 L189.90 271.37 L190.90 271.77 L191.90 272.16 L192.90 272.55 L193.90 272.94 L194.90 273.33 L195.90 273.72 L196.90 274.11 L197.90 274.50 L198.90 274.89 L199.90 275.28 L200.90 275.67 L201.90 276.06 L202.90 276.45 L203.90 276.84 L204.90 277.23 L205.90 277.62 L206.90 278.01 L207.90 278.41 L208.90 278.80 L209.90 279.19 L210.90 279.58 L211.90 279.97 L212.90 280.36 L213.90 280.75 L214.90 281.14 L215.90 281.53 L216.90 281.92 L217.90 282.31 L218.90 282.70 L219.90 283.09 L220.90 283.48 L221.90 283.87 L222.90 284.26 L223.50 284.50" stroke="#0a0aff" stroke-width="0.85" fill="none" stroke-linejoin="round"/>
<circle cx="45.18" cy="246.40" r="0.85" fill="#0a0aff"/>
<circle cx="46.78" cy="239.40" r="0.85" fill="#0a0aff"/>
<circle cx="69.4289" cy="227.3" r="2.35" stroke="#f81818" stroke-width="0.68" fill="none"/>
<circle cx="83.7997" cy="227.6" r="2.35" stroke="#f81818" stroke-width="0.68" fill="none"/>
<circle cx="94.5778" cy="229.1" r="2.35" stroke="#f81818" stroke-width="0.68" fill="none"/>
<circle cx="105.35589999999999" cy="235" r="2.35" stroke="#f81818" stroke-width="0.68" fill="none"/>
<circle cx="108.9486" cy="235.6" r="2.35" stroke="#f81818" stroke-width="0.68" fill="none"/>
<circle cx="116.134" cy="244.8" r="2.35" stroke="#f81818" stroke-width="0.68" fill="none"/>
<circle cx="123.3194" cy="248" r="2.35" stroke="#f81818" stroke-width="0.68" fill="none"/>
<circle cx="130.5048" cy="251.4" r="2.35" stroke="#f81818" stroke-width="0.68" fill="none"/>
<circle cx="155.65370000000001" cy="257.2" r="2.35" stroke="#f81818" stroke-width="0.68" fill="none"/>
</g>
<rect x="35.25" y="221.1" width="197.25" height="66.85" fill="none" stroke="#333" stroke-width="0.75"/>
<rect x="35.25" y="203.5" width="197.25" height="17.60" fill="#d9d9d9" stroke="#333" stroke-width="0.75"/>
<text transform="translate(133.88 217.20) scale(1.04 1)" font-size="11.5" font-weight="bold" fill="#1a1a1a" text-anchor="middle">37</text>
<text transform="translate(30.65 234.56) rotate(0.03) scale(1.08 1)" font-size="10.6" fill="#484848" stroke="#484848" stroke-width="0.22" text-anchor="end">300</text>
<text transform="translate(30.65 247.20) rotate(0.03) scale(1.08 1)" font-size="10.6" fill="#484848" stroke="#484848" stroke-width="0.22" text-anchor="end">100</text>
<text transform="translate(30.65 261.06) rotate(0.03) scale(1.08 1)" font-size="10.6" fill="#484848" stroke="#484848" stroke-width="0.22" text-anchor="end">30</text>
<text transform="translate(30.65 273.70) rotate(0.03) scale(1.08 1)" font-size="10.6" fill="#484848" stroke="#484848" stroke-width="0.22" text-anchor="end">10</text>
<text transform="translate(30.65 287.56) rotate(0.03) scale(1.08 1)" font-size="10.6" fill="#484848" stroke="#484848" stroke-width="0.22" text-anchor="end">3</text>
<text transform="translate(43.78 299.25) rotate(0.03) scale(1 1.08)" font-size="9.1" fill="#484848" stroke="#484848" stroke-width="0.22" text-anchor="middle">0</text>
<text transform="translate(58.15 299.25) rotate(0.03) scale(1 1.08)" font-size="9.1" fill="#484848" stroke="#484848" stroke-width="0.22" text-anchor="middle">4</text>
<text transform="translate(72.52 299.25) rotate(0.03) scale(1 1.08)" font-size="9.1" fill="#484848" stroke="#484848" stroke-width="0.22" text-anchor="middle">8</text>
<text transform="translate(86.89 299.25) rotate(0.03) scale(1 1.08)" font-size="9.1" fill="#484848" stroke="#484848" stroke-width="0.22" text-anchor="middle">12</text>
<text transform="translate(101.26 299.25) rotate(0.03) scale(1 1.08)" font-size="9.1" fill="#484848" stroke="#484848" stroke-width="0.22" text-anchor="middle">16</text>
<text transform="translate(115.63 299.25) rotate(0.03) scale(1 1.08)" font-size="9.1" fill="#484848" stroke="#484848" stroke-width="0.22" text-anchor="middle">20</text>
<text transform="translate(130.00 299.25) rotate(0.03) scale(1 1.08)" font-size="9.1" fill="#484848" stroke="#484848" stroke-width="0.22" text-anchor="middle">24</text>
<text transform="translate(144.38 299.25) rotate(0.03) scale(1 1.08)" font-size="9.1" fill="#484848" stroke="#484848" stroke-width="0.22" text-anchor="middle">28</text>
<text transform="translate(158.75 299.25) rotate(0.03) scale(1 1.08)" font-size="9.1" fill="#484848" stroke="#484848" stroke-width="0.22" text-anchor="middle">32</text>
<text transform="translate(173.12 299.25) rotate(0.03) scale(1 1.08)" font-size="9.1" fill="#484848" stroke="#484848" stroke-width="0.22" text-anchor="middle">36</text>
<text transform="translate(187.49 299.25) rotate(0.03) scale(1 1.08)" font-size="9.1" fill="#484848" stroke="#484848" stroke-width="0.22" text-anchor="middle">40</text>
<text transform="translate(201.86 299.25) rotate(0.03) scale(1 1.08)" font-size="9.1" fill="#484848" stroke="#484848" stroke-width="0.22" text-anchor="middle">44</text>
<text transform="translate(216.23 299.25) rotate(0.03) scale(1 1.08)" font-size="9.1" fill="#484848" stroke="#484848" stroke-width="0.22" text-anchor="middle">48</text>
<text transform="translate(230.60 299.25) rotate(0.03) scale(1 1.08)" font-size="9.1" fill="#484848" stroke="#484848" stroke-width="0.22" text-anchor="middle">52</text>
<path d="M32.45 230.46H35.25M32.45 243.10H35.25M32.45 256.96H35.25M32.45 269.60H35.25M32.45 283.46H35.25M44.28 287.95V289.65M58.65 287.95V289.65M73.02 287.95V289.65M87.39 287.95V289.65M101.76 287.95V289.65M116.13 287.95V289.65M130.50 287.95V289.65M144.88 287.95V289.65M159.25 287.95V289.65M173.62 287.95V289.65M187.99 287.95V289.65M202.36 287.95V289.65M216.73 287.95V289.65M231.10 287.95V289.65" stroke="#333" stroke-width="0.75" fill="none"/>
</g>
<g>
<clipPath id="c7"><rect x="259.5" y="221.1" width="198.0" height="66.85"/></clipPath>
<g clip-path="url(#c7)">
<path d="M259.5 287.69H457.5M259.5 285.85H457.5M259.5 273.36H457.5M259.5 262.53H457.5M259.5 259.04H457.5M259.5 256.19H457.5M259.5 253.78H457.5M259.5 251.69H457.5M259.5 249.85H457.5M259.5 237.36H457.5M259.5 226.53H457.5M259.5 223.04H457.5M261.49 221.1V287.95M275.87 221.1V287.95M290.24 221.1V287.95M304.61 221.1V287.95M318.98 221.1V287.95M333.35 221.1V287.95M347.72 221.1V287.95M362.09 221.1V287.95M376.46 221.1V287.95M390.83 221.1V287.95M405.20 221.1V287.95M419.57 221.1V287.95M433.94 221.1V287.95M448.31 221.1V287.95" stroke="#e9e9e9" stroke-width="0.55" fill="none"/>
<path d="M259.5 284.20H457.5M259.5 267.02H457.5M259.5 248.20H457.5M259.5 231.02H457.5M268.68 221.1V287.95M283.05 221.1V287.95M297.42 221.1V287.95M311.79 221.1V287.95M326.16 221.1V287.95M340.53 221.1V287.95M354.90 221.1V287.95M369.28 221.1V287.95M383.65 221.1V287.95M398.02 221.1V287.95M412.39 221.1V287.95M426.76 221.1V287.95M441.13 221.1V287.95M455.50 221.1V287.95" stroke="#e6e6e6" stroke-width="0.7" fill="none"/>
<path d="M269.05 288.95 L269.05 249.10 L269.68 248.50 L270.28 249.00 L270.58 241.40 L271.28 240.40" stroke="#0a0aff" stroke-width="0.7" fill="none" stroke-linejoin="round"/>
<path d="M271.28 240.40 L271.28 240.40 L272.51 243.20 L273.04 235.02 L274.27 237.82 L274.80 233.00 L276.03 235.80 L276.56 231.62 L277.79 234.42 L278.32 230.36 L279.55 233.16 L280.08 229.23 L281.31 232.03 L281.84 228.27 L283.07 231.07 L283.60 227.45 L284.83 230.25 L285.36 226.69 L286.59 229.49 L287.12 225.98 L288.35 228.78 L288.88 225.30 L290.11 228.10 L290.64 224.64 L291.87 227.44 L292.40 224.00" stroke="#0a0aff" stroke-width="0.85" fill="none" stroke-linejoin="miter" stroke-miterlimit="10"/>
<path d="M272.51 243.20L273.04 235.02M274.27 237.82L274.80 233.00M276.03 235.80L276.56 231.62M277.79 234.42L278.32 230.36M279.55 233.16L280.08 229.23M281.31 232.03L281.84 228.27M283.07 231.07L283.60 227.45M284.83 230.25L285.36 226.69M286.59 229.49L287.12 225.98M288.35 228.78L288.88 225.30M290.11 228.10L290.64 224.64M291.87 227.44L292.40 224.00" stroke="#0a0aff" stroke-width="0" fill="none"/>
<path d="M292.40 224.00 L292.90 225.06 L293.90 226.97 L294.90 228.60 L295.90 229.97 L296.90 231.12 L297.90 232.09 L298.90 232.91 L299.90 233.60 L300.90 234.20 L301.90 234.72 L302.90 235.19 L303.90 235.61 L304.90 236.00 L305.90 236.36 L306.90 236.70 L307.90 237.03 L308.90 237.34 L309.90 237.65 L310.90 237.95 L311.90 238.24 L312.90 238.54 L313.90 238.83 L314.90 239.11 L315.90 239.40 L316.90 239.69 L317.90 239.97 L318.90 240.25 L319.90 240.54 L320.90 240.82 L321.90 241.10 L322.90 241.38 L323.90 241.66 L324.90 241.95 L325.90 242.23 L326.90 242.51 L327.90 242.79 L328.90 243.07 L329.90 243.35 L330.90 243.64 L331.90 243.92 L332.90 244.20 L333.90 244.48 L334.90 244.76 L335.90 245.04 L336.90 245.33 L337.90 245.61 L338.90 245.89 L339.90 246.17 L340.90 246.45 L341.90 246.73 L342.90 247.01 L343.90 247.30 L344.90 247.58 L345.90 247.86 L346.90 248.14 L347.90 248.42 L348.90 248.70 L349.90 248.98 L350.90 249.27 L351.90 249.55 L352.90 249.83 L353.90 250.11 L354.90 250.39 L355.90 250.67 L356.90 250.96 L357.90 251.24 L358.90 251.52 L359.90 251.80 L360.90 252.08 L361.90 252.36 L362.90 252.64 L363.90 252.93 L364.90 253.21 L365.90 253.49 L366.90 253.77 L367.90 254.05 L368.90 254.33 L369.90 254.61 L370.90 254.90 L371.90 255.18 L372.90 255.46 L373.90 255.74 L374.90 256.02 L375.90 256.30 L376.90 256.59 L377.90 256.87 L378.90 257.15 L379.90 257.43 L380.90 257.71 L381.90 257.99 L382.90 258.27 L383.90 258.56 L384.90 258.84 L385.90 259.12 L386.90 259.40 L387.90 259.68 L388.90 259.96 L389.90 260.24 L390.90 260.53 L391.90 260.81 L392.90 261.09 L393.90 261.37 L394.90 261.65 L395.90 261.93 L396.90 262.22 L397.90 262.50 L398.90 262.78 L399.90 263.06 L400.90 263.34 L401.90 263.62 L402.90 263.90 L403.90 264.19 L404.90 264.47 L405.90 264.75 L406.90 265.03 L407.90 265.31 L408.90 265.59 L409.90 265.87 L410.90 266.16 L411.90 266.44 L412.90 266.72 L413.90 267.00 L414.90 267.28 L415.90 267.56 L416.90 267.85 L417.90 268.13 L418.90 268.41 L419.90 268.69 L420.90 268.97 L421.90 269.25 L422.90 269.53 L423.90 269.82 L424.90 270.10 L425.90 270.38 L426.90 270.66 L427.90 270.94 L428.90 271.22 L429.90 271.50 L430.90 271.79 L431.90 272.07 L432.90 272.35 L433.90 272.63 L434.90 272.91 L435.90 273.19 L436.90 273.48 L437.90 273.76 L438.90 274.04 L439.90 274.32 L440.90 274.60 L441.90 274.88 L442.90 275.16 L443.90 275.45 L444.90 275.73 L445.90 276.01 L446.90 276.29 L447.90 276.57 L448.00 276.60" stroke="#0a0aff" stroke-width="0.85" fill="none" stroke-linejoin="round"/>
<circle cx="269.58" cy="248.60" r="0.85" fill="#0a0aff"/>
<circle cx="271.18" cy="240.50" r="0.85" fill="#0a0aff"/>
<circle cx="279.4581" cy="234.6" r="2.35" stroke="#f81818" stroke-width="0.68" fill="none"/>
</g>
<rect x="259.5" y="221.1" width="198.0" height="66.85" fill="none" stroke="#333" stroke-width="0.75"/>
<rect x="259.5" y="203.5" width="198.0" height="17.60" fill="#d9d9d9" stroke="#333" stroke-width="0.75"/>
<text transform="translate(358.50 217.20) scale(1.04 1)" font-size="11.5" font-weight="bold" fill="#1a1a1a" text-anchor="middle">38</text>
<text transform="translate(254.90 235.12) rotate(0.03) scale(1.08 1)" font-size="10.6" fill="#484848" stroke="#484848" stroke-width="0.22" text-anchor="end">300</text>
<text transform="translate(254.90 252.30) rotate(0.03) scale(1.08 1)" font-size="10.6" fill="#484848" stroke="#484848" stroke-width="0.22" text-anchor="end">100</text>
<text transform="translate(254.90 271.12) rotate(0.03) scale(1.08 1)" font-size="10.6" fill="#484848" stroke="#484848" stroke-width="0.22" text-anchor="end">30</text>
<text transform="translate(254.90 288.30) rotate(0.03) scale(1.08 1)" font-size="10.6" fill="#484848" stroke="#484848" stroke-width="0.22" text-anchor="end">10</text>
<text transform="translate(268.18 299.25) rotate(0.03) scale(1 1.08)" font-size="9.1" fill="#484848" stroke="#484848" stroke-width="0.22" text-anchor="middle">0</text>
<text transform="translate(282.55 299.25) rotate(0.03) scale(1 1.08)" font-size="9.1" fill="#484848" stroke="#484848" stroke-width="0.22" text-anchor="middle">4</text>
<text transform="translate(296.92 299.25) rotate(0.03) scale(1 1.08)" font-size="9.1" fill="#484848" stroke="#484848" stroke-width="0.22" text-anchor="middle">8</text>
<text transform="translate(311.29 299.25) rotate(0.03) scale(1 1.08)" font-size="9.1" fill="#484848" stroke="#484848" stroke-width="0.22" text-anchor="middle">12</text>
<text transform="translate(325.66 299.25) rotate(0.03) scale(1 1.08)" font-size="9.1" fill="#484848" stroke="#484848" stroke-width="0.22" text-anchor="middle">16</text>
<text transform="translate(340.03 299.25) rotate(0.03) scale(1 1.08)" font-size="9.1" fill="#484848" stroke="#484848" stroke-width="0.22" text-anchor="middle">20</text>
<text transform="translate(354.40 299.25) rotate(0.03) scale(1 1.08)" font-size="9.1" fill="#484848" stroke="#484848" stroke-width="0.22" text-anchor="middle">24</text>
<text transform="translate(368.78 299.25) rotate(0.03) scale(1 1.08)" font-size="9.1" fill="#484848" stroke="#484848" stroke-width="0.22" text-anchor="middle">28</text>
<text transform="translate(383.15 299.25) rotate(0.03) scale(1 1.08)" font-size="9.1" fill="#484848" stroke="#484848" stroke-width="0.22" text-anchor="middle">32</text>
<text transform="translate(397.52 299.25) rotate(0.03) scale(1 1.08)" font-size="9.1" fill="#484848" stroke="#484848" stroke-width="0.22" text-anchor="middle">36</text>
<text transform="translate(411.89 299.25) rotate(0.03) scale(1 1.08)" font-size="9.1" fill="#484848" stroke="#484848" stroke-width="0.22" text-anchor="middle">40</text>
<text transform="translate(426.26 299.25) rotate(0.03) scale(1 1.08)" font-size="9.1" fill="#484848" stroke="#484848" stroke-width="0.22" text-anchor="middle">44</text>
<text transform="translate(440.63 299.25) rotate(0.03) scale(1 1.08)" font-size="9.1" fill="#484848" stroke="#484848" stroke-width="0.22" text-anchor="middle">48</text>
<text transform="translate(455.00 299.25) rotate(0.03) scale(1 1.08)" font-size="9.1" fill="#484848" stroke="#484848" stroke-width="0.22" text-anchor="middle">52</text>
<path d="M256.70 231.02H259.5M256.70 248.20H259.5M256.70 267.02H259.5M256.70 284.20H259.5M268.68 287.95V289.65M283.05 287.95V289.65M297.42 287.95V289.65M311.79 287.95V289.65M326.16 287.95V289.65M340.53 287.95V289.65M354.90 287.95V289.65M369.28 287.95V289.65M383.65 287.95V289.65M398.02 287.95V289.65M412.39 287.95V289.65M426.76 287.95V289.65M441.13 287.95V289.65M455.50 287.95V289.65" stroke="#333" stroke-width="0.75" fill="none"/>
</g>
<g>
<clipPath id="c8"><rect x="484.1" y="221.1" width="197.39999999999998" height="66.85"/></clipPath>
<g clip-path="url(#c8)">
<path d="M484.1 287.36H681.5M484.1 283.48H681.5M484.1 280.46H681.5M484.1 278.00H681.5M484.1 275.92H681.5M484.1 274.11H681.5M484.1 272.52H681.5M484.1 261.74H681.5M484.1 252.38H681.5M484.1 249.36H681.5M484.1 246.90H681.5M484.1 244.82H681.5M484.1 243.01H681.5M484.1 241.42H681.5M484.1 230.64H681.5M484.1 221.28H681.5M486.09 221.1V287.95M500.47 221.1V287.95M514.84 221.1V287.95M529.21 221.1V287.95M543.58 221.1V287.95M557.95 221.1V287.95M572.32 221.1V287.95M586.69 221.1V287.95M601.06 221.1V287.95M615.43 221.1V287.95M629.80 221.1V287.95M644.17 221.1V287.95M658.54 221.1V287.95M672.91 221.1V287.95" stroke="#e9e9e9" stroke-width="0.55" fill="none"/>
<path d="M484.1 271.10H681.5M484.1 256.26H681.5M484.1 240.00H681.5M484.1 225.16H681.5M493.28 221.1V287.95M507.65 221.1V287.95M522.02 221.1V287.95M536.39 221.1V287.95M550.76 221.1V287.95M565.13 221.1V287.95M579.50 221.1V287.95M593.88 221.1V287.95M608.25 221.1V287.95M622.62 221.1V287.95M636.99 221.1V287.95M651.36 221.1V287.95M665.73 221.1V287.95M680.10 221.1V287.95" stroke="#e6e6e6" stroke-width="0.7" fill="none"/>
<path d="M493.65 288.95 L493.65 246.90 L494.28 246.30 L494.88 246.80 L495.18 240.00 L495.88 239.00" stroke="#0a0aff" stroke-width="0.7" fill="none" stroke-linejoin="round"/>
<path d="M495.88 239.00 L495.88 239.00 L497.14 240.80 L497.68 232.97 L498.94 234.77 L499.49 230.82 L500.75 232.62 L501.29 229.13 L502.55 230.93 L503.09 227.75 L504.35 229.55 L504.89 226.59 L506.15 228.39 L506.69 225.69 L507.96 227.49 L508.50 224.95 L509.76 226.75 L510.30 224.40" stroke="#0a0aff" stroke-width="0.85" fill="none" stroke-linejoin="miter" stroke-miterlimit="10"/>
<path d="M497.14 240.80L497.68 232.97M498.94 234.77L499.49 230.82M500.75 232.62L501.29 229.13M502.55 230.93L503.09 227.75M504.35 229.55L504.89 226.59M506.15 228.39L506.69 225.69M507.96 227.49L508.50 224.95M509.76 226.75L510.30 224.40" stroke="#0a0aff" stroke-width="0" fill="none"/>
<path d="M510.30 224.40 L510.80 225.17 L511.80 226.61 L512.80 227.89 L513.80 229.02 L514.80 230.02 L515.80 230.91 L516.80 231.69 L517.80 232.40 L518.80 233.04 L519.80 233.62 L520.80 234.15 L521.80 234.64 L522.80 235.10 L523.80 235.54 L524.80 235.95 L525.80 236.35 L526.80 236.73 L527.80 237.11 L528.80 237.48 L529.80 237.83 L530.80 238.19 L531.80 238.54 L532.80 238.88 L533.80 239.23 L534.80 239.57 L535.80 239.91 L536.80 240.24 L537.80 240.58 L538.80 240.92 L539.80 241.25 L540.80 241.58 L541.80 241.92 L542.80 242.25 L543.80 242.58 L544.80 242.91 L545.80 243.25 L546.80 243.58 L547.80 243.91 L548.80 244.24 L549.80 244.57 L550.80 244.90 L551.80 245.23 L552.80 245.56 L553.80 245.89 L554.80 246.22 L555.80 246.55 L556.80 246.88 L557.80 247.21 L558.80 247.54 L559.80 247.87 L560.80 248.20 L561.80 248.52 L562.80 248.85 L563.80 249.18 L564.80 249.51 L565.80 249.84 L566.80 250.17 L567.80 250.49 L568.80 250.82 L569.80 251.15 L570.80 251.48 L571.80 251.81 L572.80 252.13 L573.80 252.46 L574.80 252.79 L575.80 253.12 L576.80 253.44 L577.80 253.77 L578.80 254.10 L579.80 254.42 L580.80 254.75 L581.80 255.08 L582.80 255.40 L583.80 255.73 L584.80 256.06 L585.80 256.38 L586.80 256.71 L587.80 257.04 L588.80 257.36 L589.80 257.69 L590.80 258.02 L591.80 258.34 L592.80 258.67 L593.80 258.99 L594.80 259.32 L595.80 259.65 L596.80 259.97 L597.80 260.30 L598.80 260.62 L599.80 260.95 L600.80 261.28 L601.80 261.60 L602.80 261.93 L603.80 262.25 L604.80 262.58 L605.80 262.90 L606.80 263.23 L607.80 263.55 L608.80 263.88 L609.80 264.20 L610.80 264.53 L611.80 264.86 L612.80 265.18 L613.80 265.51 L614.80 265.83 L615.80 266.16 L616.80 266.48 L617.80 266.81 L618.80 267.13 L619.80 267.46 L620.80 267.78 L621.80 268.11 L622.80 268.43 L623.80 268.76 L624.80 269.08 L625.80 269.40 L626.80 269.73 L627.80 270.05 L628.80 270.38 L629.80 270.70 L630.80 271.03 L631.80 271.35 L632.80 271.68 L633.80 272.00 L634.80 272.33 L635.80 272.65 L636.80 272.98 L637.80 273.30 L638.80 273.62 L639.80 273.95 L640.80 274.27 L641.80 274.60 L642.80 274.92 L643.80 275.25 L644.80 275.57 L645.80 275.90 L646.80 276.22 L647.80 276.54 L648.80 276.87 L649.80 277.19 L650.80 277.52 L651.80 277.84 L652.80 278.17 L653.80 278.49 L654.80 278.81 L655.80 279.14 L656.80 279.46 L657.80 279.79 L658.80 280.11 L659.80 280.43 L660.80 280.76 L661.80 281.08 L662.80 281.41 L663.80 281.73 L664.80 282.06 L665.80 282.38 L666.80 282.70 L667.80 283.03 L668.80 283.35 L669.80 283.68 L670.80 284.00 L671.80 284.32 L672.60 284.60" stroke="#0a0aff" stroke-width="0.85" fill="none" stroke-linejoin="round"/>
<circle cx="494.18" cy="246.40" r="0.85" fill="#0a0aff"/>
<circle cx="495.78" cy="239.10" r="0.85" fill="#0a0aff"/>
<circle cx="518.4289" cy="239" r="2.35" stroke="#f81818" stroke-width="0.68" fill="none"/>
<circle cx="536.3924" cy="236.4" r="2.35" stroke="#f81818" stroke-width="0.68" fill="none"/>
<circle cx="543.5778" cy="240.7" r="2.35" stroke="#f81818" stroke-width="0.68" fill="none"/>
<circle cx="590.2828999999999" cy="257.3" r="2.35" stroke="#f81818" stroke-width="0.68" fill="none"/>
<circle cx="593.8756" cy="257.9" r="2.35" stroke="#f81818" stroke-width="0.68" fill="none"/>
</g>
<rect x="484.1" y="221.1" width="197.39999999999998" height="66.85" fill="none" stroke="#333" stroke-width="0.75"/>
<rect x="484.1" y="203.5" width="197.39999999999998" height="17.60" fill="#d9d9d9" stroke="#333" stroke-width="0.75"/>
<text transform="translate(582.80 217.20) scale(1.04 1)" font-size="11.5" font-weight="bold" fill="#1a1a1a" text-anchor="middle">48</text>
<text transform="translate(479.50 229.26) rotate(0.03) scale(1.08 1)" font-size="10.6" fill="#484848" stroke="#484848" stroke-width="0.22" text-anchor="end">300</text>
<text transform="translate(479.50 244.10) rotate(0.03) scale(1.08 1)" font-size="10.6" fill="#484848" stroke="#484848" stroke-width="0.22" text-anchor="end">100</text>
<text transform="translate(479.50 260.36) rotate(0.03) scale(1.08 1)" font-size="10.6" fill="#484848" stroke="#484848" stroke-width="0.22" text-anchor="end">30</text>
<text transform="translate(479.50 275.20) rotate(0.03) scale(1.08 1)" font-size="10.6" fill="#484848" stroke="#484848" stroke-width="0.22" text-anchor="end">10</text>
<text transform="translate(492.78 299.25) rotate(0.03) scale(1 1.08)" font-size="9.1" fill="#484848" stroke="#484848" stroke-width="0.22" text-anchor="middle">0</text>
<text transform="translate(507.15 299.25) rotate(0.03) scale(1 1.08)" font-size="9.1" fill="#484848" stroke="#484848" stroke-width="0.22" text-anchor="middle">4</text>
<text transform="translate(521.52 299.25) rotate(0.03) scale(1 1.08)" font-size="9.1" fill="#484848" stroke="#484848" stroke-width="0.22" text-anchor="middle">8</text>
<text transform="translate(535.89 299.25) rotate(0.03) scale(1 1.08)" font-size="9.1" fill="#484848" stroke="#484848" stroke-width="0.22" text-anchor="middle">12</text>
<text transform="translate(550.26 299.25) rotate(0.03) scale(1 1.08)" font-size="9.1" fill="#484848" stroke="#484848" stroke-width="0.22" text-anchor="middle">16</text>
<text transform="translate(564.63 299.25) rotate(0.03) scale(1 1.08)" font-size="9.1" fill="#484848" stroke="#484848" stroke-width="0.22" text-anchor="middle">20</text>
<text transform="translate(579.00 299.25) rotate(0.03) scale(1 1.08)" font-size="9.1" fill="#484848" stroke="#484848" stroke-width="0.22" text-anchor="middle">24</text>
<text transform="translate(593.38 299.25) rotate(0.03) scale(1 1.08)" font-size="9.1" fill="#484848" stroke="#484848" stroke-width="0.22" text-anchor="middle">28</text>
<text transform="translate(607.75 299.25) rotate(0.03) scale(1 1.08)" font-size="9.1" fill="#484848" stroke="#484848" stroke-width="0.22" text-anchor="middle">32</text>
<text transform="translate(622.12 299.25) rotate(0.03) scale(1 1.08)" font-size="9.1" fill="#484848" stroke="#484848" stroke-width="0.22" text-anchor="middle">36</text>
<text transform="translate(636.49 299.25) rotate(0.03) scale(1 1.08)" font-size="9.1" fill="#484848" stroke="#484848" stroke-width="0.22" text-anchor="middle">40</text>
<text transform="translate(650.86 299.25) rotate(0.03) scale(1 1.08)" font-size="9.1" fill="#484848" stroke="#484848" stroke-width="0.22" text-anchor="middle">44</text>
<text transform="translate(665.23 299.25) rotate(0.03) scale(1 1.08)" font-size="9.1" fill="#484848" stroke="#484848" stroke-width="0.22" text-anchor="middle">48</text>
<text transform="translate(679.60 299.25) rotate(0.03) scale(1 1.08)" font-size="9.1" fill="#484848" stroke="#484848" stroke-width="0.22" text-anchor="middle">52</text>
<path d="M481.30 225.16H484.1M481.30 240.00H484.1M481.30 256.26H484.1M481.30 271.10H484.1M493.28 287.95V289.65M507.65 287.95V289.65M522.02 287.95V289.65M536.39 287.95V289.65M550.76 287.95V289.65M565.13 287.95V289.65M579.50 287.95V289.65M593.88 287.95V289.65M608.25 287.95V289.65M622.62 287.95V289.65M636.99 287.95V289.65M651.36 287.95V289.65M665.73 287.95V289.65M680.10 287.95V289.65" stroke="#333" stroke-width="0.75" fill="none"/>
</g>
<text transform="translate(358.8 311.7) scale(1.025 1)" font-size="11.5" font-weight="bold" fill="#000" text-anchor="middle">Time (day)</text>
<text transform="translate(8.9 152.8) rotate(-90) scale(1.049 1)" font-size="11.5" font-weight="bold" fill="#000" text-anchor="middle">Concentration (ng/mL)</text>
</svg>
</body></html>
